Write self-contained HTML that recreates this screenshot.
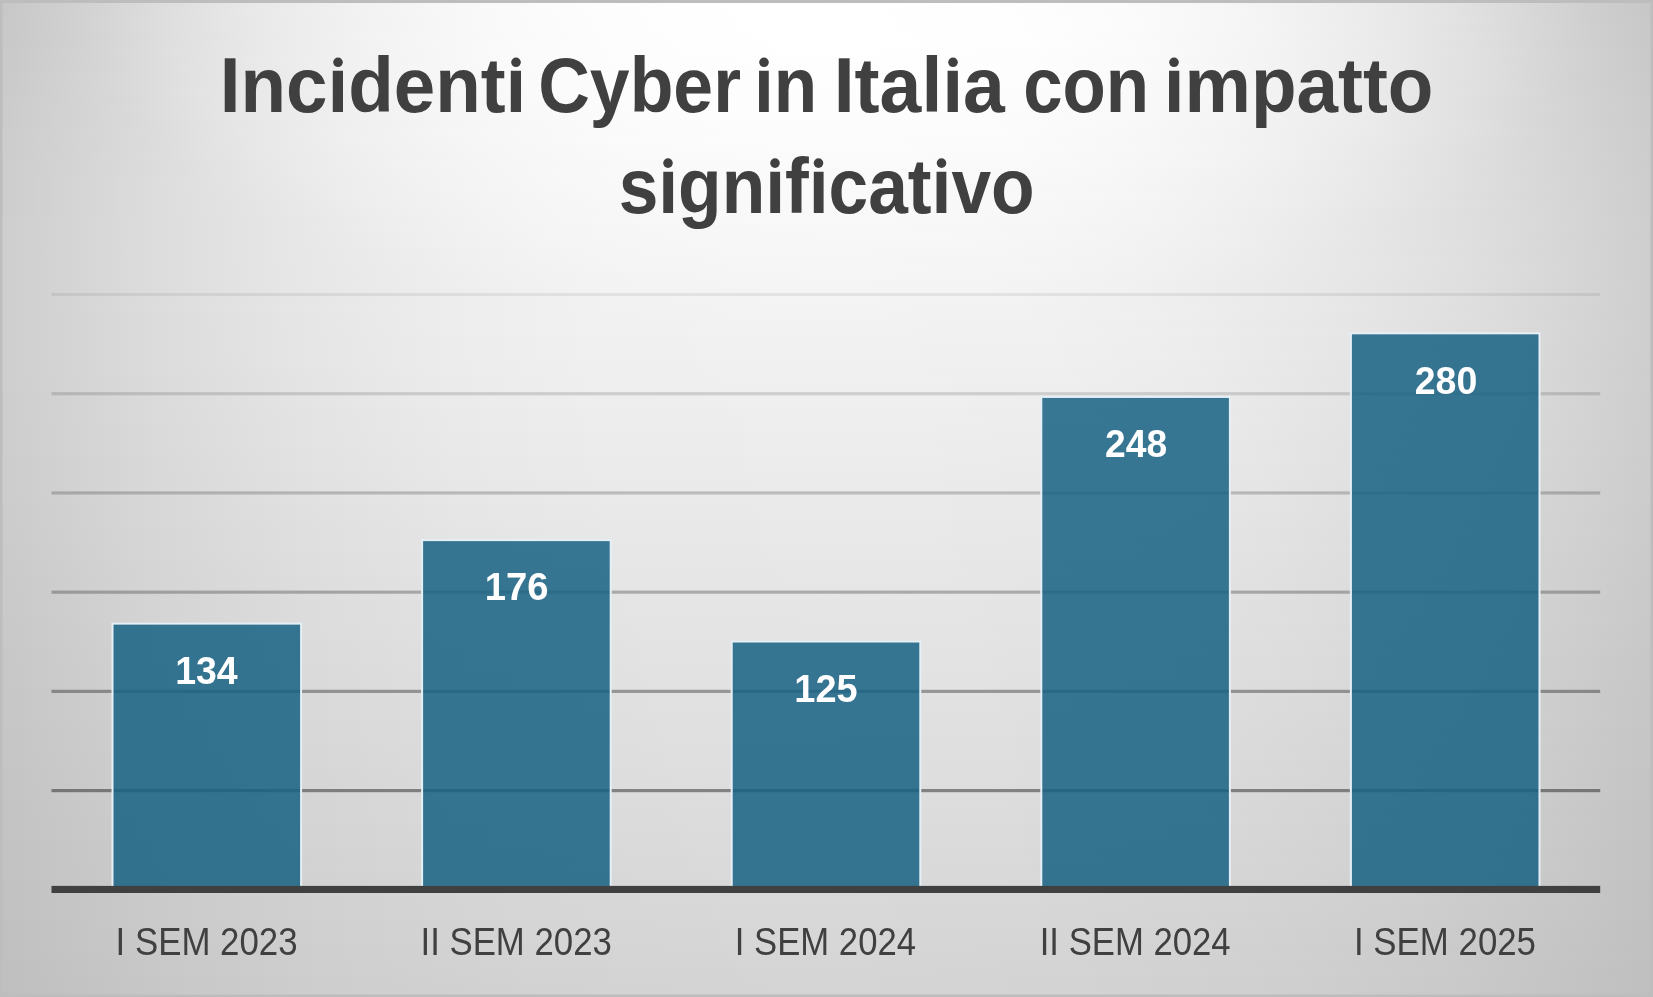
<!DOCTYPE html>
<html><head><meta charset="utf-8"><style>
html,body{margin:0;padding:0;background:#fff;}
body{width:1653px;height:997px;overflow:hidden;font-family:"Liberation Sans",sans-serif;}
svg{display:block;}
text{-webkit-font-smoothing:antialiased;}
</style></head><body>
<svg width="1653" height="997" viewBox="0 0 1653 997" style="will-change:transform">
<defs>

<linearGradient id="b0" x1="0" x2="1"><stop offset="0" stop-color="#c7c7c7"/><stop offset="0.04356" stop-color="#d0d0d0"/><stop offset="0.098" stop-color="#dddddd"/><stop offset="0.1561" stop-color="#e9e9e9"/><stop offset="0.2196" stop-color="#f2f2f2"/><stop offset="0.2904" stop-color="#f9f9f9"/><stop offset="0.3648" stop-color="#fdfdfd"/><stop offset="0.4664" stop-color="#ffffff"/><stop offset="0.5989" stop-color="#fefefe"/><stop offset="0.6788" stop-color="#fbfbfb"/><stop offset="0.7495" stop-color="#f5f5f5"/><stop offset="0.8167" stop-color="#ededed"/><stop offset="0.8766" stop-color="#e3e3e3"/><stop offset="0.9328" stop-color="#d6d6d6"/><stop offset="0.9655" stop-color="#cecece"/><stop offset="1" stop-color="#c7c7c7"/></linearGradient>
<linearGradient id="b1" x1="0" x2="1"><stop offset="0" stop-color="#c7c7c7"/><stop offset="0.04356" stop-color="#d0d0d0"/><stop offset="0.09619" stop-color="#dddddd"/><stop offset="0.1543" stop-color="#e9e9e9"/><stop offset="0.2178" stop-color="#f2f2f2"/><stop offset="0.2886" stop-color="#f9f9f9"/><stop offset="0.363" stop-color="#fdfdfd"/><stop offset="0.4664" stop-color="#ffffff"/><stop offset="0.6007" stop-color="#fefefe"/><stop offset="0.6788" stop-color="#fbfbfb"/><stop offset="0.7495" stop-color="#f6f6f6"/><stop offset="0.8167" stop-color="#ededed"/><stop offset="0.8766" stop-color="#e3e3e3"/><stop offset="0.9328" stop-color="#d6d6d6"/><stop offset="0.9655" stop-color="#cecece"/><stop offset="1" stop-color="#c7c7c7"/></linearGradient>
<linearGradient id="b2" x1="0" x2="1"><stop offset="0" stop-color="#c8c8c8"/><stop offset="0.04537" stop-color="#d1d1d1"/><stop offset="0.098" stop-color="#dedede"/><stop offset="0.1561" stop-color="#e9e9e9"/><stop offset="0.2196" stop-color="#f2f2f2"/><stop offset="0.2904" stop-color="#f9f9f9"/><stop offset="0.3666" stop-color="#fdfdfd"/><stop offset="0.4737" stop-color="#ffffff"/><stop offset="0.608" stop-color="#fefefe"/><stop offset="0.686" stop-color="#fbfbfb"/><stop offset="0.7568" stop-color="#f5f5f5"/><stop offset="0.824" stop-color="#ececec"/><stop offset="0.8838" stop-color="#e2e2e2"/><stop offset="0.9383" stop-color="#d5d5d5"/><stop offset="0.9637" stop-color="#cecece"/><stop offset="1" stop-color="#c8c8c8"/></linearGradient>
<linearGradient id="b3" x1="0" x2="1"><stop offset="0" stop-color="#c8c8c8"/><stop offset="0.04537" stop-color="#d1d1d1"/><stop offset="0.098" stop-color="#dedede"/><stop offset="0.1561" stop-color="#e9e9e9"/><stop offset="0.2196" stop-color="#f2f2f2"/><stop offset="0.2904" stop-color="#f9f9f9"/><stop offset="0.3666" stop-color="#fdfdfd"/><stop offset="0.4737" stop-color="#ffffff"/><stop offset="0.608" stop-color="#fefefe"/><stop offset="0.686" stop-color="#fbfbfb"/><stop offset="0.7586" stop-color="#f5f5f5"/><stop offset="0.8258" stop-color="#ececec"/><stop offset="0.8857" stop-color="#e1e1e1"/><stop offset="0.9401" stop-color="#d5d5d5"/><stop offset="0.9637" stop-color="#cfcfcf"/><stop offset="1" stop-color="#c8c8c8"/></linearGradient>
<linearGradient id="b4" x1="0" x2="1"><stop offset="0" stop-color="#c8c8c8"/><stop offset="0.04719" stop-color="#d1d1d1"/><stop offset="0.09982" stop-color="#dedede"/><stop offset="0.1579" stop-color="#e9e9e9"/><stop offset="0.2232" stop-color="#f3f3f3"/><stop offset="0.2958" stop-color="#f9f9f9"/><stop offset="0.3721" stop-color="#fdfdfd"/><stop offset="0.4846" stop-color="#ffffff"/><stop offset="0.6134" stop-color="#fefefe"/><stop offset="0.6915" stop-color="#fafafa"/><stop offset="0.7641" stop-color="#f4f4f4"/><stop offset="0.8294" stop-color="#ebebeb"/><stop offset="0.8893" stop-color="#e1e1e1"/><stop offset="0.9437" stop-color="#d4d4d4"/><stop offset="0.9637" stop-color="#cfcfcf"/><stop offset="1" stop-color="#c8c8c8"/></linearGradient>
<linearGradient id="b5" x1="0" x2="1"><stop offset="0" stop-color="#c8c8c8"/><stop offset="0.049" stop-color="#d2d2d2"/><stop offset="0.1034" stop-color="#dfdfdf"/><stop offset="0.1615" stop-color="#eaeaea"/><stop offset="0.2269" stop-color="#f3f3f3"/><stop offset="0.2995" stop-color="#fafafa"/><stop offset="0.3775" stop-color="#fdfdfd"/><stop offset="0.4936" stop-color="#ffffff"/><stop offset="0.6171" stop-color="#fefefe"/><stop offset="0.6951" stop-color="#fafafa"/><stop offset="0.7677" stop-color="#f4f4f4"/><stop offset="0.833" stop-color="#ebebeb"/><stop offset="0.8911" stop-color="#e0e0e0"/><stop offset="0.9456" stop-color="#d3d3d3"/><stop offset="0.9637" stop-color="#cfcfcf"/><stop offset="1" stop-color="#c8c8c8"/></linearGradient>
<linearGradient id="b6" x1="0" x2="1"><stop offset="0" stop-color="#c9c9c9"/><stop offset="0.05082" stop-color="#d3d3d3"/><stop offset="0.1053" stop-color="#e0e0e0"/><stop offset="0.1633" stop-color="#eaeaea"/><stop offset="0.2287" stop-color="#f3f3f3"/><stop offset="0.3013" stop-color="#fafafa"/><stop offset="0.3811" stop-color="#fdfdfd"/><stop offset="0.5009" stop-color="#ffffff"/><stop offset="0.6189" stop-color="#fdfdfd"/><stop offset="0.6987" stop-color="#fafafa"/><stop offset="0.7713" stop-color="#f3f3f3"/><stop offset="0.8367" stop-color="#eaeaea"/><stop offset="0.8947" stop-color="#e0e0e0"/><stop offset="0.9492" stop-color="#d3d3d3"/><stop offset="1" stop-color="#c9c9c9"/></linearGradient>
<linearGradient id="b7" x1="0" x2="1"><stop offset="0" stop-color="#c9c9c9"/><stop offset="0.05263" stop-color="#d3d3d3"/><stop offset="0.1071" stop-color="#e0e0e0"/><stop offset="0.1652" stop-color="#ebebeb"/><stop offset="0.2305" stop-color="#f3f3f3"/><stop offset="0.3031" stop-color="#fafafa"/><stop offset="0.3829" stop-color="#fdfdfd"/><stop offset="0.5045" stop-color="#fefefe"/><stop offset="0.6207" stop-color="#fdfdfd"/><stop offset="0.7005" stop-color="#f9f9f9"/><stop offset="0.7731" stop-color="#f3f3f3"/><stop offset="0.8385" stop-color="#eaeaea"/><stop offset="0.8966" stop-color="#dfdfdf"/><stop offset="0.9583" stop-color="#d1d1d1"/><stop offset="1" stop-color="#c9c9c9"/></linearGradient>
<linearGradient id="b8" x1="0" x2="1"><stop offset="0" stop-color="#c9c9c9"/><stop offset="0.05626" stop-color="#d4d4d4"/><stop offset="0.1107" stop-color="#e1e1e1"/><stop offset="0.1688" stop-color="#ebebeb"/><stop offset="0.2341" stop-color="#f4f4f4"/><stop offset="0.3085" stop-color="#fafafa"/><stop offset="0.3902" stop-color="#fdfdfd"/><stop offset="0.5209" stop-color="#fefefe"/><stop offset="0.6279" stop-color="#fdfdfd"/><stop offset="0.7078" stop-color="#f9f9f9"/><stop offset="0.7804" stop-color="#f2f2f2"/><stop offset="0.8439" stop-color="#e9e9e9"/><stop offset="0.902" stop-color="#dedede"/><stop offset="0.9546" stop-color="#d2d2d2"/><stop offset="1" stop-color="#c9c9c9"/></linearGradient>
<linearGradient id="b9" x1="0" x2="1"><stop offset="0" stop-color="#cacaca"/><stop offset="0.05808" stop-color="#d5d5d5"/><stop offset="0.1125" stop-color="#e1e1e1"/><stop offset="0.1706" stop-color="#ebebeb"/><stop offset="0.2359" stop-color="#f4f4f4"/><stop offset="0.3103" stop-color="#fafafa"/><stop offset="0.392" stop-color="#fdfdfd"/><stop offset="0.5227" stop-color="#fefefe"/><stop offset="0.6279" stop-color="#fdfdfd"/><stop offset="0.7078" stop-color="#f8f8f8"/><stop offset="0.7804" stop-color="#f2f2f2"/><stop offset="0.8439" stop-color="#e9e9e9"/><stop offset="0.902" stop-color="#dedede"/><stop offset="0.9528" stop-color="#d2d2d2"/><stop offset="1" stop-color="#cacaca"/></linearGradient>
<linearGradient id="b10" x1="0" x2="1"><stop offset="0" stop-color="#cacaca"/><stop offset="0.06171" stop-color="#d6d6d6"/><stop offset="0.1162" stop-color="#e2e2e2"/><stop offset="0.176" stop-color="#ececec"/><stop offset="0.2432" stop-color="#f4f4f4"/><stop offset="0.3194" stop-color="#fafafa"/><stop offset="0.4029" stop-color="#fdfdfd"/><stop offset="0.5463" stop-color="#fefefe"/><stop offset="0.6407" stop-color="#fcfcfc"/><stop offset="0.7205" stop-color="#f7f7f7"/><stop offset="0.7913" stop-color="#f0f0f0"/><stop offset="0.8548" stop-color="#e7e7e7"/><stop offset="0.9111" stop-color="#dcdcdc"/><stop offset="0.9492" stop-color="#d3d3d3"/><stop offset="1" stop-color="#cacaca"/></linearGradient>
<linearGradient id="b11" x1="0" x2="1"><stop offset="0" stop-color="#cacaca"/><stop offset="0.06534" stop-color="#d7d7d7"/><stop offset="0.1198" stop-color="#e3e3e3"/><stop offset="0.1797" stop-color="#ededed"/><stop offset="0.2468" stop-color="#f4f4f4"/><stop offset="0.323" stop-color="#fafafa"/><stop offset="0.4083" stop-color="#fdfdfd"/><stop offset="0.5554" stop-color="#fdfdfd"/><stop offset="0.6461" stop-color="#fbfbfb"/><stop offset="0.7278" stop-color="#f7f7f7"/><stop offset="0.7985" stop-color="#efefef"/><stop offset="0.8603" stop-color="#e6e6e6"/><stop offset="0.9165" stop-color="#dbdbdb"/><stop offset="0.9474" stop-color="#d4d4d4"/><stop offset="1" stop-color="#cacaca"/></linearGradient>
<linearGradient id="b12" x1="0" x2="1"><stop offset="0" stop-color="#cbcbcb"/><stop offset="0.06897" stop-color="#d7d7d7"/><stop offset="0.1234" stop-color="#e3e3e3"/><stop offset="0.1833" stop-color="#ededed"/><stop offset="0.2505" stop-color="#f4f4f4"/><stop offset="0.3285" stop-color="#fafafa"/><stop offset="0.4138" stop-color="#fdfdfd"/><stop offset="0.5626" stop-color="#fdfdfd"/><stop offset="0.6515" stop-color="#fbfbfb"/><stop offset="0.7332" stop-color="#f6f6f6"/><stop offset="0.8022" stop-color="#efefef"/><stop offset="0.8639" stop-color="#e5e5e5"/><stop offset="0.9183" stop-color="#dadada"/><stop offset="0.9437" stop-color="#d5d5d5"/><stop offset="1" stop-color="#cbcbcb"/></linearGradient>
<linearGradient id="b13" x1="0" x2="1"><stop offset="0" stop-color="#cbcbcb"/><stop offset="0.0726" stop-color="#d8d8d8"/><stop offset="0.127" stop-color="#e4e4e4"/><stop offset="0.1869" stop-color="#ededed"/><stop offset="0.2559" stop-color="#f5f5f5"/><stop offset="0.3358" stop-color="#fafafa"/><stop offset="0.4229" stop-color="#fdfdfd"/><stop offset="0.5735" stop-color="#fdfdfd"/><stop offset="0.6606" stop-color="#fafafa"/><stop offset="0.7405" stop-color="#f5f5f5"/><stop offset="0.8094" stop-color="#eeeeee"/><stop offset="0.8693" stop-color="#e4e4e4"/><stop offset="0.9238" stop-color="#d9d9d9"/><stop offset="0.9456" stop-color="#d5d5d5"/><stop offset="1" stop-color="#cbcbcb"/></linearGradient>
<linearGradient id="b14" x1="0" x2="1"><stop offset="0" stop-color="#cbcbcb"/><stop offset="0.07804" stop-color="#d9d9d9"/><stop offset="0.1325" stop-color="#e5e5e5"/><stop offset="0.1942" stop-color="#eeeeee"/><stop offset="0.2632" stop-color="#f5f5f5"/><stop offset="0.3448" stop-color="#fafafa"/><stop offset="0.4338" stop-color="#fdfdfd"/><stop offset="0.5808" stop-color="#fcfcfc"/><stop offset="0.6661" stop-color="#fafafa"/><stop offset="0.7459" stop-color="#f4f4f4"/><stop offset="0.8149" stop-color="#ededed"/><stop offset="0.8748" stop-color="#e3e3e3"/><stop offset="0.9383" stop-color="#d6d6d6"/><stop offset="1" stop-color="#cbcbcb"/></linearGradient>
<linearGradient id="b15" x1="0" x2="1"><stop offset="0" stop-color="#cbcbcb"/><stop offset="0.08348" stop-color="#dadada"/><stop offset="0.1379" stop-color="#e5e5e5"/><stop offset="0.1996" stop-color="#eeeeee"/><stop offset="0.2704" stop-color="#f5f5f5"/><stop offset="0.3557" stop-color="#fafafa"/><stop offset="0.4483" stop-color="#fcfcfc"/><stop offset="0.5898" stop-color="#fcfcfc"/><stop offset="0.6751" stop-color="#f9f9f9"/><stop offset="0.755" stop-color="#f3f3f3"/><stop offset="0.8221" stop-color="#ececec"/><stop offset="0.882" stop-color="#e2e2e2"/><stop offset="0.9328" stop-color="#d7d7d7"/><stop offset="1" stop-color="#cbcbcb"/></linearGradient>
<linearGradient id="b16" x1="0" x2="1"><stop offset="0" stop-color="#cccccc"/><stop offset="0.08711" stop-color="#dbdbdb"/><stop offset="0.1434" stop-color="#e6e6e6"/><stop offset="0.2051" stop-color="#efefef"/><stop offset="0.2777" stop-color="#f6f6f6"/><stop offset="0.3648" stop-color="#fafafa"/><stop offset="0.461" stop-color="#fcfcfc"/><stop offset="0.5971" stop-color="#fcfcfc"/><stop offset="0.6824" stop-color="#f8f8f8"/><stop offset="0.7604" stop-color="#f2f2f2"/><stop offset="0.8276" stop-color="#ebebeb"/><stop offset="0.8857" stop-color="#e1e1e1"/><stop offset="0.9292" stop-color="#d8d8d8"/><stop offset="1" stop-color="#cccccc"/></linearGradient>
<linearGradient id="b17" x1="0" x2="1"><stop offset="0" stop-color="#cccccc"/><stop offset="0.09437" stop-color="#dcdcdc"/><stop offset="0.1506" stop-color="#e7e7e7"/><stop offset="0.2142" stop-color="#f0f0f0"/><stop offset="0.2886" stop-color="#f6f6f6"/><stop offset="0.3757" stop-color="#fbfbfb"/><stop offset="0.4809" stop-color="#fcfcfc"/><stop offset="0.6062" stop-color="#fbfbfb"/><stop offset="0.6933" stop-color="#f7f7f7"/><stop offset="0.7713" stop-color="#f1f1f1"/><stop offset="0.8367" stop-color="#e9e9e9"/><stop offset="0.8947" stop-color="#dfdfdf"/><stop offset="0.9238" stop-color="#d9d9d9"/><stop offset="1" stop-color="#cccccc"/></linearGradient>
<linearGradient id="b18" x1="0" x2="1"><stop offset="0" stop-color="#cccccc"/><stop offset="0.09982" stop-color="#dddddd"/><stop offset="0.1561" stop-color="#e8e8e8"/><stop offset="0.2196" stop-color="#f0f0f0"/><stop offset="0.294" stop-color="#f6f6f6"/><stop offset="0.3811" stop-color="#fafafa"/><stop offset="0.4918" stop-color="#fcfcfc"/><stop offset="0.6098" stop-color="#fbfbfb"/><stop offset="0.6969" stop-color="#f7f7f7"/><stop offset="0.7731" stop-color="#f1f1f1"/><stop offset="0.8385" stop-color="#e8e8e8"/><stop offset="0.8966" stop-color="#dedede"/><stop offset="0.9238" stop-color="#d9d9d9"/><stop offset="1" stop-color="#cccccc"/></linearGradient>
<linearGradient id="b19" x1="0" x2="1"><stop offset="0" stop-color="#cccccc"/><stop offset="0.09074" stop-color="#dcdcdc"/><stop offset="0.1597" stop-color="#e8e8e8"/><stop offset="0.225" stop-color="#f0f0f0"/><stop offset="0.3013" stop-color="#f6f6f6"/><stop offset="0.3884" stop-color="#fafafa"/><stop offset="0.5064" stop-color="#fbfbfb"/><stop offset="0.6171" stop-color="#fafafa"/><stop offset="0.7042" stop-color="#f6f6f6"/><stop offset="0.7804" stop-color="#f0f0f0"/><stop offset="0.8439" stop-color="#e7e7e7"/><stop offset="0.9002" stop-color="#dddddd"/><stop offset="0.9982" stop-color="#cdcdcd"/><stop offset="1" stop-color="#cccccc"/></linearGradient>
<linearGradient id="b20" x1="0" x2="1"><stop offset="0" stop-color="#cdcdcd"/><stop offset="0.08893" stop-color="#dbdbdb"/><stop offset="0.118" stop-color="#e0e0e0"/><stop offset="0.176" stop-color="#eaeaea"/><stop offset="0.2432" stop-color="#f2f2f2"/><stop offset="0.3267" stop-color="#f7f7f7"/><stop offset="0.412" stop-color="#fafafa"/><stop offset="0.5517" stop-color="#fbfbfb"/><stop offset="0.6443" stop-color="#f9f9f9"/><stop offset="0.7332" stop-color="#f4f4f4"/><stop offset="0.804" stop-color="#ececec"/><stop offset="0.8657" stop-color="#e3e3e3"/><stop offset="0.9074" stop-color="#dcdcdc"/><stop offset="0.9964" stop-color="#cdcdcd"/><stop offset="1" stop-color="#cdcdcd"/></linearGradient>
<linearGradient id="b21" x1="0" x2="1"><stop offset="0" stop-color="#cdcdcd"/><stop offset="0.08893" stop-color="#dbdbdb"/><stop offset="0.1234" stop-color="#e1e1e1"/><stop offset="0.1833" stop-color="#ebebeb"/><stop offset="0.2523" stop-color="#f2f2f2"/><stop offset="0.3394" stop-color="#f8f8f8"/><stop offset="0.4265" stop-color="#fafafa"/><stop offset="0.5681" stop-color="#fafafa"/><stop offset="0.657" stop-color="#f8f8f8"/><stop offset="0.7441" stop-color="#f2f2f2"/><stop offset="0.8131" stop-color="#ebebeb"/><stop offset="0.873" stop-color="#e2e2e2"/><stop offset="0.9056" stop-color="#dcdcdc"/><stop offset="0.9927" stop-color="#cecece"/><stop offset="1" stop-color="#cdcdcd"/></linearGradient>
<linearGradient id="b22" x1="0" x2="1"><stop offset="0" stop-color="#cdcdcd"/><stop offset="0.08893" stop-color="#dcdcdc"/><stop offset="0.1289" stop-color="#e2e2e2"/><stop offset="0.1887" stop-color="#ebebeb"/><stop offset="0.2577" stop-color="#f2f2f2"/><stop offset="0.3466" stop-color="#f8f8f8"/><stop offset="0.4356" stop-color="#fafafa"/><stop offset="0.5771" stop-color="#fafafa"/><stop offset="0.6642" stop-color="#f7f7f7"/><stop offset="0.7495" stop-color="#f1f1f1"/><stop offset="0.8167" stop-color="#eaeaea"/><stop offset="0.8766" stop-color="#e1e1e1"/><stop offset="0.9764" stop-color="#d1d1d1"/><stop offset="1" stop-color="#cdcdcd"/></linearGradient>
<linearGradient id="b23" x1="0" x2="1"><stop offset="0" stop-color="#cdcdcd"/><stop offset="0.08893" stop-color="#dcdcdc"/><stop offset="0.1379" stop-color="#e3e3e3"/><stop offset="0.1996" stop-color="#ececec"/><stop offset="0.2704" stop-color="#f3f3f3"/><stop offset="0.3575" stop-color="#f8f8f8"/><stop offset="0.4519" stop-color="#fafafa"/><stop offset="0.588" stop-color="#f9f9f9"/><stop offset="0.6733" stop-color="#f6f6f6"/><stop offset="0.7568" stop-color="#f0f0f0"/><stop offset="0.824" stop-color="#e9e9e9"/><stop offset="0.8947" stop-color="#dedede"/><stop offset="0.9782" stop-color="#d1d1d1"/><stop offset="1" stop-color="#cdcdcd"/></linearGradient>
<linearGradient id="b24" x1="0" x2="1"><stop offset="0" stop-color="#cdcdcd"/><stop offset="0.08893" stop-color="#dcdcdc"/><stop offset="0.147" stop-color="#e4e4e4"/><stop offset="0.2087" stop-color="#ededed"/><stop offset="0.2831" stop-color="#f3f3f3"/><stop offset="0.3684" stop-color="#f8f8f8"/><stop offset="0.4701" stop-color="#fafafa"/><stop offset="0.5989" stop-color="#f9f9f9"/><stop offset="0.6824" stop-color="#f6f6f6"/><stop offset="0.7641" stop-color="#efefef"/><stop offset="0.8294" stop-color="#e8e8e8"/><stop offset="0.8838" stop-color="#dfdfdf"/><stop offset="0.9655" stop-color="#d3d3d3"/><stop offset="1" stop-color="#cdcdcd"/></linearGradient>
<linearGradient id="b25" x1="0" x2="1"><stop offset="0" stop-color="#cdcdcd"/><stop offset="0.08893" stop-color="#dcdcdc"/><stop offset="0.1579" stop-color="#e5e5e5"/><stop offset="0.2214" stop-color="#eeeeee"/><stop offset="0.2995" stop-color="#f4f4f4"/><stop offset="0.3829" stop-color="#f8f8f8"/><stop offset="0.4973" stop-color="#f9f9f9"/><stop offset="0.6134" stop-color="#f8f8f8"/><stop offset="0.6969" stop-color="#f4f4f4"/><stop offset="0.775" stop-color="#eeeeee"/><stop offset="0.8403" stop-color="#e6e6e6"/><stop offset="0.8838" stop-color="#e0e0e0"/><stop offset="0.9655" stop-color="#d3d3d3"/><stop offset="1" stop-color="#cdcdcd"/></linearGradient>
<linearGradient id="b26" x1="0" x2="1"><stop offset="0" stop-color="#cdcdcd"/><stop offset="0.08893" stop-color="#dcdcdc"/><stop offset="0.1724" stop-color="#e7e7e7"/><stop offset="0.2396" stop-color="#efefef"/><stop offset="0.3212" stop-color="#f5f5f5"/><stop offset="0.4065" stop-color="#f8f8f8"/><stop offset="0.539" stop-color="#f9f9f9"/><stop offset="0.637" stop-color="#f7f7f7"/><stop offset="0.7205" stop-color="#f2f2f2"/><stop offset="0.7931" stop-color="#ebebeb"/><stop offset="0.9365" stop-color="#d8d8d8"/><stop offset="1" stop-color="#cdcdcd"/></linearGradient>
<linearGradient id="b27" x1="0" x2="1"><stop offset="0" stop-color="#cecece"/><stop offset="0.08893" stop-color="#dcdcdc"/><stop offset="0.2287" stop-color="#ededed"/><stop offset="0.3085" stop-color="#f4f4f4"/><stop offset="0.392" stop-color="#f8f8f8"/><stop offset="0.5136" stop-color="#f9f9f9"/><stop offset="0.6225" stop-color="#f7f7f7"/><stop offset="0.706" stop-color="#f3f3f3"/><stop offset="0.7822" stop-color="#ececec"/><stop offset="0.9238" stop-color="#dadada"/><stop offset="1" stop-color="#cecece"/></linearGradient>
<linearGradient id="b28" x1="0" x2="1"><stop offset="0" stop-color="#cecece"/><stop offset="0.08893" stop-color="#dcdcdc"/><stop offset="0.2359" stop-color="#eeeeee"/><stop offset="0.3158" stop-color="#f4f4f4"/><stop offset="0.3993" stop-color="#f7f7f7"/><stop offset="0.5263" stop-color="#f8f8f8"/><stop offset="0.6298" stop-color="#f6f6f6"/><stop offset="0.7114" stop-color="#f2f2f2"/><stop offset="0.7858" stop-color="#ebebeb"/><stop offset="0.9183" stop-color="#dbdbdb"/><stop offset="1" stop-color="#cecece"/></linearGradient>
<linearGradient id="b29" x1="0" x2="1"><stop offset="0" stop-color="#cecece"/><stop offset="0.08893" stop-color="#dcdcdc"/><stop offset="0.1706" stop-color="#e6e6e6"/><stop offset="0.2559" stop-color="#efefef"/><stop offset="0.3376" stop-color="#f5f5f5"/><stop offset="0.4265" stop-color="#f7f7f7"/><stop offset="0.5626" stop-color="#f8f8f8"/><stop offset="0.6534" stop-color="#f5f5f5"/><stop offset="0.7332" stop-color="#f0f0f0"/><stop offset="0.804" stop-color="#e9e9e9"/><stop offset="0.9093" stop-color="#dcdcdc"/><stop offset="0.9982" stop-color="#cecece"/><stop offset="1" stop-color="#cecece"/></linearGradient>
<linearGradient id="b30" x1="0" x2="1"><stop offset="0" stop-color="#cecece"/><stop offset="0.08893" stop-color="#dcdcdc"/><stop offset="0.1706" stop-color="#e6e6e6"/><stop offset="0.2686" stop-color="#f0f0f0"/><stop offset="0.3485" stop-color="#f5f5f5"/><stop offset="0.441" stop-color="#f7f7f7"/><stop offset="0.5771" stop-color="#f7f7f7"/><stop offset="0.6642" stop-color="#f4f4f4"/><stop offset="0.7441" stop-color="#efefef"/><stop offset="0.8893" stop-color="#dfdfdf"/><stop offset="0.9746" stop-color="#d2d2d2"/><stop offset="1" stop-color="#cecece"/></linearGradient>
<linearGradient id="b31" x1="0" x2="1"><stop offset="0" stop-color="#cecece"/><stop offset="0.08893" stop-color="#dcdcdc"/><stop offset="0.1706" stop-color="#e6e6e6"/><stop offset="0.2831" stop-color="#f0f0f0"/><stop offset="0.3612" stop-color="#f5f5f5"/><stop offset="0.461" stop-color="#f7f7f7"/><stop offset="0.5935" stop-color="#f6f6f6"/><stop offset="0.6788" stop-color="#f3f3f3"/><stop offset="0.7586" stop-color="#ededed"/><stop offset="0.8857" stop-color="#dfdfdf"/><stop offset="0.9691" stop-color="#d3d3d3"/><stop offset="1" stop-color="#cecece"/></linearGradient>
<linearGradient id="b32" x1="0" x2="1"><stop offset="0" stop-color="#cecece"/><stop offset="0.08893" stop-color="#dcdcdc"/><stop offset="0.1706" stop-color="#e6e6e6"/><stop offset="0.294" stop-color="#f1f1f1"/><stop offset="0.3721" stop-color="#f5f5f5"/><stop offset="0.4809" stop-color="#f6f6f6"/><stop offset="0.6062" stop-color="#f5f5f5"/><stop offset="0.6878" stop-color="#f2f2f2"/><stop offset="0.7659" stop-color="#ececec"/><stop offset="0.8748" stop-color="#e1e1e1"/><stop offset="0.9564" stop-color="#d5d5d5"/><stop offset="1" stop-color="#cecece"/></linearGradient>
<linearGradient id="b33" x1="0" x2="1"><stop offset="0" stop-color="#cecece"/><stop offset="0.08893" stop-color="#dcdcdc"/><stop offset="0.1724" stop-color="#e6e6e6"/><stop offset="0.3031" stop-color="#f1f1f1"/><stop offset="0.3829" stop-color="#f5f5f5"/><stop offset="0.5009" stop-color="#f6f6f6"/><stop offset="0.6189" stop-color="#f5f5f5"/><stop offset="0.6987" stop-color="#f1f1f1"/><stop offset="0.8385" stop-color="#e5e5e5"/><stop offset="0.9201" stop-color="#dbdbdb"/><stop offset="1" stop-color="#cecece"/></linearGradient>
<linearGradient id="b34" x1="0" x2="1"><stop offset="0" stop-color="#cecece"/><stop offset="0.08893" stop-color="#dcdcdc"/><stop offset="0.1724" stop-color="#e6e6e6"/><stop offset="0.3103" stop-color="#f1f1f1"/><stop offset="0.3902" stop-color="#f4f4f4"/><stop offset="0.5154" stop-color="#f6f6f6"/><stop offset="0.6261" stop-color="#f4f4f4"/><stop offset="0.7042" stop-color="#f0f0f0"/><stop offset="0.8348" stop-color="#e5e5e5"/><stop offset="0.9183" stop-color="#dbdbdb"/><stop offset="1" stop-color="#cecece"/></linearGradient>
<linearGradient id="b35" x1="0" x2="1"><stop offset="0" stop-color="#cecece"/><stop offset="0.08893" stop-color="#dcdcdc"/><stop offset="0.1724" stop-color="#e6e6e6"/><stop offset="0.2831" stop-color="#efefef"/><stop offset="0.3593" stop-color="#f3f3f3"/><stop offset="0.4592" stop-color="#f5f5f5"/><stop offset="0.5971" stop-color="#f4f4f4"/><stop offset="0.6788" stop-color="#f1f1f1"/><stop offset="0.8094" stop-color="#e7e7e7"/><stop offset="0.8966" stop-color="#dedede"/><stop offset="0.9837" stop-color="#d1d1d1"/><stop offset="1" stop-color="#cecece"/></linearGradient>
<linearGradient id="b36" x1="0" x2="1"><stop offset="0" stop-color="#cecece"/><stop offset="0.08893" stop-color="#dcdcdc"/><stop offset="0.1742" stop-color="#e6e6e6"/><stop offset="0.2704" stop-color="#ededed"/><stop offset="0.3612" stop-color="#f3f3f3"/><stop offset="0.461" stop-color="#f4f4f4"/><stop offset="0.5989" stop-color="#f4f4f4"/><stop offset="0.6806" stop-color="#f1f1f1"/><stop offset="0.7967" stop-color="#e8e8e8"/><stop offset="0.8857" stop-color="#dfdfdf"/><stop offset="0.971" stop-color="#d3d3d3"/><stop offset="1" stop-color="#cecece"/></linearGradient>
<linearGradient id="b37" x1="0" x2="1"><stop offset="0" stop-color="#cecece"/><stop offset="0.08893" stop-color="#dcdcdc"/><stop offset="0.1742" stop-color="#e5e5e5"/><stop offset="0.2704" stop-color="#ededed"/><stop offset="0.3721" stop-color="#f2f2f2"/><stop offset="0.4809" stop-color="#f4f4f4"/><stop offset="0.6098" stop-color="#f3f3f3"/><stop offset="0.6933" stop-color="#efefef"/><stop offset="0.7895" stop-color="#e9e9e9"/><stop offset="0.8802" stop-color="#e0e0e0"/><stop offset="0.9655" stop-color="#d4d4d4"/><stop offset="1" stop-color="#cecece"/></linearGradient>
<linearGradient id="b38" x1="0" x2="1"><stop offset="0" stop-color="#cecece"/><stop offset="0.08893" stop-color="#dcdcdc"/><stop offset="0.176" stop-color="#e6e6e6"/><stop offset="0.2722" stop-color="#ededed"/><stop offset="0.3739" stop-color="#f2f2f2"/><stop offset="0.4846" stop-color="#f3f3f3"/><stop offset="0.6116" stop-color="#f2f2f2"/><stop offset="0.7169" stop-color="#eeeeee"/><stop offset="0.8131" stop-color="#e7e7e7"/><stop offset="0.9002" stop-color="#dddddd"/><stop offset="0.9873" stop-color="#d0d0d0"/><stop offset="1" stop-color="#cecece"/></linearGradient>
<linearGradient id="b39" x1="0" x2="1"><stop offset="0" stop-color="#cecece"/><stop offset="0.08893" stop-color="#dbdbdb"/><stop offset="0.176" stop-color="#e5e5e5"/><stop offset="0.2722" stop-color="#ededed"/><stop offset="0.3593" stop-color="#f1f1f1"/><stop offset="0.4682" stop-color="#f3f3f3"/><stop offset="0.6062" stop-color="#f2f2f2"/><stop offset="0.7005" stop-color="#efefef"/><stop offset="0.7949" stop-color="#e8e8e8"/><stop offset="0.8857" stop-color="#dfdfdf"/><stop offset="0.9728" stop-color="#d2d2d2"/><stop offset="1" stop-color="#cecece"/></linearGradient>
<linearGradient id="b40" x1="0" x2="1"><stop offset="0" stop-color="#cecece"/><stop offset="0.08893" stop-color="#dbdbdb"/><stop offset="0.176" stop-color="#e5e5e5"/><stop offset="0.2704" stop-color="#ededed"/><stop offset="0.3575" stop-color="#f1f1f1"/><stop offset="0.4882" stop-color="#f2f2f2"/><stop offset="0.6316" stop-color="#f1f1f1"/><stop offset="0.7187" stop-color="#ededed"/><stop offset="0.8131" stop-color="#e6e6e6"/><stop offset="0.902" stop-color="#dddddd"/><stop offset="0.9909" stop-color="#d0d0d0"/><stop offset="1" stop-color="#cecece"/></linearGradient>
<linearGradient id="b41" x1="0" x2="1"><stop offset="0" stop-color="#cecece"/><stop offset="0.08893" stop-color="#dbdbdb"/><stop offset="0.1779" stop-color="#e5e5e5"/><stop offset="0.2722" stop-color="#ededed"/><stop offset="0.3593" stop-color="#f1f1f1"/><stop offset="0.4773" stop-color="#f2f2f2"/><stop offset="0.6261" stop-color="#f1f1f1"/><stop offset="0.7132" stop-color="#eeeeee"/><stop offset="0.8076" stop-color="#e7e7e7"/><stop offset="0.8966" stop-color="#dddddd"/><stop offset="0.9837" stop-color="#d1d1d1"/><stop offset="1" stop-color="#cecece"/></linearGradient>
<linearGradient id="b42" x1="0" x2="1"><stop offset="0" stop-color="#cecece"/><stop offset="0.08893" stop-color="#dbdbdb"/><stop offset="0.1779" stop-color="#e5e5e5"/><stop offset="0.2722" stop-color="#ececec"/><stop offset="0.3593" stop-color="#f0f0f0"/><stop offset="0.4791" stop-color="#f1f1f1"/><stop offset="0.6279" stop-color="#f1f1f1"/><stop offset="0.7151" stop-color="#ededed"/><stop offset="0.8094" stop-color="#e6e6e6"/><stop offset="0.9002" stop-color="#dddddd"/><stop offset="0.9873" stop-color="#d0d0d0"/><stop offset="1" stop-color="#cecece"/></linearGradient>
<linearGradient id="b43" x1="0" x2="1"><stop offset="0" stop-color="#cecece"/><stop offset="0.08893" stop-color="#dbdbdb"/><stop offset="0.1779" stop-color="#e5e5e5"/><stop offset="0.2722" stop-color="#ececec"/><stop offset="0.3593" stop-color="#f0f0f0"/><stop offset="0.4809" stop-color="#f1f1f1"/><stop offset="0.6279" stop-color="#f0f0f0"/><stop offset="0.7169" stop-color="#ededed"/><stop offset="0.8094" stop-color="#e6e6e6"/><stop offset="0.9002" stop-color="#dcdcdc"/><stop offset="0.9873" stop-color="#d0d0d0"/><stop offset="1" stop-color="#cecece"/></linearGradient>
<linearGradient id="b44" x1="0" x2="1"><stop offset="0" stop-color="#cecece"/><stop offset="0.08893" stop-color="#dbdbdb"/><stop offset="0.1797" stop-color="#e5e5e5"/><stop offset="0.2722" stop-color="#ececec"/><stop offset="0.3593" stop-color="#f0f0f0"/><stop offset="0.4828" stop-color="#f1f1f1"/><stop offset="0.6298" stop-color="#f0f0f0"/><stop offset="0.7187" stop-color="#ededed"/><stop offset="0.8113" stop-color="#e6e6e6"/><stop offset="0.902" stop-color="#dcdcdc"/><stop offset="0.9909" stop-color="#cfcfcf"/><stop offset="1" stop-color="#cecece"/></linearGradient>
<linearGradient id="b45" x1="0" x2="1"><stop offset="0" stop-color="#cecece"/><stop offset="0.08893" stop-color="#dbdbdb"/><stop offset="0.1797" stop-color="#e5e5e5"/><stop offset="0.2722" stop-color="#ececec"/><stop offset="0.3593" stop-color="#efefef"/><stop offset="0.4864" stop-color="#f0f0f0"/><stop offset="0.6316" stop-color="#f0f0f0"/><stop offset="0.7205" stop-color="#ececec"/><stop offset="0.8131" stop-color="#e5e5e5"/><stop offset="0.9038" stop-color="#dcdcdc"/><stop offset="0.9927" stop-color="#cfcfcf"/><stop offset="1" stop-color="#cecece"/></linearGradient>
<linearGradient id="b46" x1="0" x2="1"><stop offset="0" stop-color="#cecece"/><stop offset="0.08893" stop-color="#dbdbdb"/><stop offset="0.1797" stop-color="#e4e4e4"/><stop offset="0.2722" stop-color="#ececec"/><stop offset="0.3593" stop-color="#efefef"/><stop offset="0.49" stop-color="#f0f0f0"/><stop offset="0.6334" stop-color="#efefef"/><stop offset="0.7223" stop-color="#ececec"/><stop offset="0.8149" stop-color="#e5e5e5"/><stop offset="0.9074" stop-color="#dbdbdb"/><stop offset="0.9964" stop-color="#cecece"/><stop offset="1" stop-color="#cecece"/></linearGradient>
<linearGradient id="b47" x1="0" x2="1"><stop offset="0" stop-color="#cecece"/><stop offset="0.08893" stop-color="#dadada"/><stop offset="0.1815" stop-color="#e4e4e4"/><stop offset="0.274" stop-color="#ebebeb"/><stop offset="0.363" stop-color="#efefef"/><stop offset="0.5064" stop-color="#f0f0f0"/><stop offset="0.6407" stop-color="#efefef"/><stop offset="0.7278" stop-color="#ebebeb"/><stop offset="0.8203" stop-color="#e4e4e4"/><stop offset="0.9129" stop-color="#dadada"/><stop offset="1" stop-color="#cecece"/></linearGradient>
<linearGradient id="b48" x1="0" x2="1"><stop offset="0" stop-color="#cecece"/><stop offset="0.08893" stop-color="#dadada"/><stop offset="0.1815" stop-color="#e4e4e4"/><stop offset="0.274" stop-color="#ebebeb"/><stop offset="0.363" stop-color="#efefef"/><stop offset="0.51" stop-color="#efefef"/><stop offset="0.6425" stop-color="#eeeeee"/><stop offset="0.7296" stop-color="#ebebeb"/><stop offset="0.8221" stop-color="#e4e4e4"/><stop offset="0.9147" stop-color="#dadada"/><stop offset="1" stop-color="#cecece"/></linearGradient>
<linearGradient id="b49" x1="0" x2="1"><stop offset="0" stop-color="#cdcdcd"/><stop offset="0.08893" stop-color="#dadada"/><stop offset="0.1815" stop-color="#e4e4e4"/><stop offset="0.274" stop-color="#ebebeb"/><stop offset="0.363" stop-color="#eeeeee"/><stop offset="0.5154" stop-color="#efefef"/><stop offset="0.6461" stop-color="#eeeeee"/><stop offset="0.7332" stop-color="#eaeaea"/><stop offset="0.8258" stop-color="#e3e3e3"/><stop offset="0.9183" stop-color="#d9d9d9"/><stop offset="1" stop-color="#cdcdcd"/></linearGradient>
<linearGradient id="b50" x1="0" x2="1"><stop offset="0" stop-color="#cdcdcd"/><stop offset="0.08893" stop-color="#dadada"/><stop offset="0.1815" stop-color="#e4e4e4"/><stop offset="0.274" stop-color="#ebebeb"/><stop offset="0.363" stop-color="#eeeeee"/><stop offset="0.5172" stop-color="#efefef"/><stop offset="0.6479" stop-color="#eeeeee"/><stop offset="0.7368" stop-color="#eaeaea"/><stop offset="0.8294" stop-color="#e3e3e3"/><stop offset="0.922" stop-color="#d9d9d9"/><stop offset="1" stop-color="#cdcdcd"/></linearGradient>
<linearGradient id="b51" x1="0" x2="1"><stop offset="0" stop-color="#cdcdcd"/><stop offset="0.08893" stop-color="#dadada"/><stop offset="0.1815" stop-color="#e3e3e3"/><stop offset="0.274" stop-color="#eaeaea"/><stop offset="0.363" stop-color="#ededed"/><stop offset="0.5209" stop-color="#eeeeee"/><stop offset="0.6515" stop-color="#ededed"/><stop offset="0.7405" stop-color="#e9e9e9"/><stop offset="0.833" stop-color="#e2e2e2"/><stop offset="0.9256" stop-color="#d8d8d8"/><stop offset="1" stop-color="#cdcdcd"/></linearGradient>
<linearGradient id="b52" x1="0" x2="1"><stop offset="0" stop-color="#cdcdcd"/><stop offset="0.08893" stop-color="#dadada"/><stop offset="0.1833" stop-color="#e3e3e3"/><stop offset="0.2759" stop-color="#eaeaea"/><stop offset="0.3666" stop-color="#ededed"/><stop offset="0.5336" stop-color="#eeeeee"/><stop offset="0.6588" stop-color="#ededed"/><stop offset="0.7459" stop-color="#e9e9e9"/><stop offset="0.8403" stop-color="#e1e1e1"/><stop offset="0.9328" stop-color="#d7d7d7"/><stop offset="1" stop-color="#cdcdcd"/></linearGradient>
<linearGradient id="b53" x1="0" x2="1"><stop offset="0" stop-color="#cdcdcd"/><stop offset="0.08893" stop-color="#d9d9d9"/><stop offset="0.1833" stop-color="#e3e3e3"/><stop offset="0.2759" stop-color="#eaeaea"/><stop offset="0.3666" stop-color="#ededed"/><stop offset="0.5354" stop-color="#eeeeee"/><stop offset="0.6606" stop-color="#ececec"/><stop offset="0.7495" stop-color="#e8e8e8"/><stop offset="0.8439" stop-color="#e1e1e1"/><stop offset="0.9365" stop-color="#d6d6d6"/><stop offset="1" stop-color="#cdcdcd"/></linearGradient>
<linearGradient id="b54" x1="0" x2="1"><stop offset="0" stop-color="#cdcdcd"/><stop offset="0.08893" stop-color="#d9d9d9"/><stop offset="0.1833" stop-color="#e3e3e3"/><stop offset="0.2759" stop-color="#e9e9e9"/><stop offset="0.3666" stop-color="#ececec"/><stop offset="0.5354" stop-color="#ededed"/><stop offset="0.6606" stop-color="#ececec"/><stop offset="0.7495" stop-color="#e8e8e8"/><stop offset="0.8439" stop-color="#e0e0e0"/><stop offset="0.9365" stop-color="#d6d6d6"/><stop offset="1" stop-color="#cdcdcd"/></linearGradient>
<linearGradient id="b55" x1="0" x2="1"><stop offset="0" stop-color="#cdcdcd"/><stop offset="0.08893" stop-color="#d9d9d9"/><stop offset="0.1833" stop-color="#e3e3e3"/><stop offset="0.2759" stop-color="#e9e9e9"/><stop offset="0.3666" stop-color="#ececec"/><stop offset="0.5354" stop-color="#ededed"/><stop offset="0.6624" stop-color="#ebebeb"/><stop offset="0.7514" stop-color="#e7e7e7"/><stop offset="0.8457" stop-color="#e0e0e0"/><stop offset="0.9383" stop-color="#d5d5d5"/><stop offset="1" stop-color="#cdcdcd"/></linearGradient>
<linearGradient id="b56" x1="0" x2="1"><stop offset="0" stop-color="#cdcdcd"/><stop offset="0.08893" stop-color="#d9d9d9"/><stop offset="0.1833" stop-color="#e2e2e2"/><stop offset="0.2759" stop-color="#e9e9e9"/><stop offset="0.3684" stop-color="#ececec"/><stop offset="0.539" stop-color="#ededed"/><stop offset="0.6661" stop-color="#ebebeb"/><stop offset="0.755" stop-color="#e7e7e7"/><stop offset="0.8494" stop-color="#dfdfdf"/><stop offset="0.9419" stop-color="#d5d5d5"/><stop offset="1" stop-color="#cdcdcd"/></linearGradient>
<linearGradient id="b57" x1="0" x2="1"><stop offset="0" stop-color="#cccccc"/><stop offset="0.08893" stop-color="#d8d8d8"/><stop offset="0.1833" stop-color="#e2e2e2"/><stop offset="0.2759" stop-color="#e8e8e8"/><stop offset="0.3684" stop-color="#ebebeb"/><stop offset="0.539" stop-color="#ececec"/><stop offset="0.6661" stop-color="#ebebeb"/><stop offset="0.755" stop-color="#e7e7e7"/><stop offset="0.8512" stop-color="#dfdfdf"/><stop offset="0.9437" stop-color="#d4d4d4"/><stop offset="1" stop-color="#cccccc"/></linearGradient>
<linearGradient id="b58" x1="0" x2="1"><stop offset="0" stop-color="#cccccc"/><stop offset="0.08893" stop-color="#d8d8d8"/><stop offset="0.1833" stop-color="#e2e2e2"/><stop offset="0.2759" stop-color="#e8e8e8"/><stop offset="0.3684" stop-color="#ebebeb"/><stop offset="0.5372" stop-color="#ececec"/><stop offset="0.6679" stop-color="#eaeaea"/><stop offset="0.7568" stop-color="#e6e6e6"/><stop offset="0.853" stop-color="#dedede"/><stop offset="0.9456" stop-color="#d4d4d4"/><stop offset="1" stop-color="#cccccc"/></linearGradient>
<linearGradient id="b59" x1="0" x2="1"><stop offset="0" stop-color="#cccccc"/><stop offset="0.08893" stop-color="#d8d8d8"/><stop offset="0.1833" stop-color="#e1e1e1"/><stop offset="0.2777" stop-color="#e8e8e8"/><stop offset="0.3721" stop-color="#ebebeb"/><stop offset="0.5408" stop-color="#ebebeb"/><stop offset="0.6697" stop-color="#eaeaea"/><stop offset="0.7586" stop-color="#e6e6e6"/><stop offset="0.8548" stop-color="#dedede"/><stop offset="0.9474" stop-color="#d3d3d3"/><stop offset="1" stop-color="#cccccc"/></linearGradient>
<linearGradient id="b60" x1="0" x2="1"><stop offset="0" stop-color="#cccccc"/><stop offset="0.08893" stop-color="#d8d8d8"/><stop offset="0.1833" stop-color="#e1e1e1"/><stop offset="0.2777" stop-color="#e7e7e7"/><stop offset="0.3721" stop-color="#eaeaea"/><stop offset="0.539" stop-color="#ebebeb"/><stop offset="0.6715" stop-color="#e9e9e9"/><stop offset="0.7604" stop-color="#e5e5e5"/><stop offset="0.8566" stop-color="#dedede"/><stop offset="0.9492" stop-color="#d3d3d3"/><stop offset="1" stop-color="#cccccc"/></linearGradient>
<linearGradient id="b61" x1="0" x2="1"><stop offset="0" stop-color="#cccccc"/><stop offset="0.09074" stop-color="#d8d8d8"/><stop offset="0.1851" stop-color="#e1e1e1"/><stop offset="0.2795" stop-color="#e7e7e7"/><stop offset="0.3757" stop-color="#eaeaea"/><stop offset="0.5426" stop-color="#ebebeb"/><stop offset="0.6733" stop-color="#e9e9e9"/><stop offset="0.7641" stop-color="#e5e5e5"/><stop offset="0.8603" stop-color="#dddddd"/><stop offset="0.9528" stop-color="#d2d2d2"/><stop offset="1" stop-color="#cccccc"/></linearGradient>
<linearGradient id="b62" x1="0" x2="1"><stop offset="0" stop-color="#cccccc"/><stop offset="0.09074" stop-color="#d7d7d7"/><stop offset="0.1851" stop-color="#e1e1e1"/><stop offset="0.2813" stop-color="#e7e7e7"/><stop offset="0.3775" stop-color="#eaeaea"/><stop offset="0.5426" stop-color="#eaeaea"/><stop offset="0.6751" stop-color="#e8e8e8"/><stop offset="0.7659" stop-color="#e4e4e4"/><stop offset="0.8621" stop-color="#dcdcdc"/><stop offset="0.9546" stop-color="#d2d2d2"/><stop offset="1" stop-color="#cccccc"/></linearGradient>
<linearGradient id="b63" x1="0" x2="1"><stop offset="0" stop-color="#cbcbcb"/><stop offset="0.09074" stop-color="#d7d7d7"/><stop offset="0.1833" stop-color="#e0e0e0"/><stop offset="0.2795" stop-color="#e6e6e6"/><stop offset="0.3757" stop-color="#e9e9e9"/><stop offset="0.539" stop-color="#eaeaea"/><stop offset="0.6751" stop-color="#e8e8e8"/><stop offset="0.7659" stop-color="#e4e4e4"/><stop offset="0.8621" stop-color="#dcdcdc"/><stop offset="0.9546" stop-color="#d2d2d2"/><stop offset="1" stop-color="#cbcbcb"/></linearGradient>
<linearGradient id="b64" x1="0" x2="1"><stop offset="0" stop-color="#cbcbcb"/><stop offset="0.09074" stop-color="#d7d7d7"/><stop offset="0.1833" stop-color="#e0e0e0"/><stop offset="0.2813" stop-color="#e6e6e6"/><stop offset="0.3793" stop-color="#e9e9e9"/><stop offset="0.5408" stop-color="#eaeaea"/><stop offset="0.677" stop-color="#e8e8e8"/><stop offset="0.7677" stop-color="#e3e3e3"/><stop offset="0.8639" stop-color="#dcdcdc"/><stop offset="0.9564" stop-color="#d1d1d1"/><stop offset="1" stop-color="#cbcbcb"/></linearGradient>
<linearGradient id="b65" x1="0" x2="1"><stop offset="0" stop-color="#cbcbcb"/><stop offset="0.09074" stop-color="#d7d7d7"/><stop offset="0.1833" stop-color="#dfdfdf"/><stop offset="0.2813" stop-color="#e6e6e6"/><stop offset="0.3793" stop-color="#e8e8e8"/><stop offset="0.539" stop-color="#e9e9e9"/><stop offset="0.677" stop-color="#e7e7e7"/><stop offset="0.7677" stop-color="#e3e3e3"/><stop offset="0.8639" stop-color="#dbdbdb"/><stop offset="0.9564" stop-color="#d1d1d1"/><stop offset="1" stop-color="#cbcbcb"/></linearGradient>
<linearGradient id="b66" x1="0" x2="1"><stop offset="0" stop-color="#cbcbcb"/><stop offset="0.09074" stop-color="#d6d6d6"/><stop offset="0.1833" stop-color="#dfdfdf"/><stop offset="0.2813" stop-color="#e5e5e5"/><stop offset="0.3811" stop-color="#e8e8e8"/><stop offset="0.5408" stop-color="#e9e9e9"/><stop offset="0.677" stop-color="#e7e7e7"/><stop offset="0.7695" stop-color="#e2e2e2"/><stop offset="0.8657" stop-color="#dbdbdb"/><stop offset="0.9583" stop-color="#d1d1d1"/><stop offset="1" stop-color="#cbcbcb"/></linearGradient>
<linearGradient id="b67" x1="0" x2="1"><stop offset="0" stop-color="#cbcbcb"/><stop offset="0.09074" stop-color="#d6d6d6"/><stop offset="0.1833" stop-color="#dfdfdf"/><stop offset="0.2813" stop-color="#e5e5e5"/><stop offset="0.3811" stop-color="#e8e8e8"/><stop offset="0.5408" stop-color="#e9e9e9"/><stop offset="0.677" stop-color="#e6e6e6"/><stop offset="0.7695" stop-color="#e2e2e2"/><stop offset="0.8675" stop-color="#dadada"/><stop offset="0.9601" stop-color="#d0d0d0"/><stop offset="1" stop-color="#cbcbcb"/></linearGradient>
<linearGradient id="b68" x1="0" x2="1"><stop offset="0" stop-color="#cacaca"/><stop offset="0.09074" stop-color="#d6d6d6"/><stop offset="0.1833" stop-color="#dfdfdf"/><stop offset="0.2831" stop-color="#e5e5e5"/><stop offset="0.3848" stop-color="#e7e7e7"/><stop offset="0.5426" stop-color="#e8e8e8"/><stop offset="0.6788" stop-color="#e6e6e6"/><stop offset="0.7713" stop-color="#e2e2e2"/><stop offset="0.8675" stop-color="#dadada"/><stop offset="0.9601" stop-color="#d0d0d0"/><stop offset="1" stop-color="#cacaca"/></linearGradient>
<linearGradient id="b69" x1="0" x2="1"><stop offset="0" stop-color="#cacaca"/><stop offset="0.09074" stop-color="#d6d6d6"/><stop offset="0.1833" stop-color="#dedede"/><stop offset="0.2831" stop-color="#e4e4e4"/><stop offset="0.3866" stop-color="#e7e7e7"/><stop offset="0.5445" stop-color="#e8e8e8"/><stop offset="0.6788" stop-color="#e6e6e6"/><stop offset="0.7731" stop-color="#e1e1e1"/><stop offset="0.8693" stop-color="#dadada"/><stop offset="0.9619" stop-color="#cfcfcf"/><stop offset="1" stop-color="#cacaca"/></linearGradient>
<linearGradient id="b70" x1="0" x2="1"><stop offset="0" stop-color="#cacaca"/><stop offset="0.09074" stop-color="#d5d5d5"/><stop offset="0.1833" stop-color="#dedede"/><stop offset="0.2831" stop-color="#e4e4e4"/><stop offset="0.3866" stop-color="#e7e7e7"/><stop offset="0.5463" stop-color="#e7e7e7"/><stop offset="0.6788" stop-color="#e5e5e5"/><stop offset="0.7731" stop-color="#e1e1e1"/><stop offset="0.8693" stop-color="#d9d9d9"/><stop offset="0.9619" stop-color="#cfcfcf"/><stop offset="1" stop-color="#cacaca"/></linearGradient>
<linearGradient id="b71" x1="0" x2="1"><stop offset="0" stop-color="#cacaca"/><stop offset="0.09256" stop-color="#d5d5d5"/><stop offset="0.1851" stop-color="#dedede"/><stop offset="0.2849" stop-color="#e4e4e4"/><stop offset="0.3902" stop-color="#e6e6e6"/><stop offset="0.5499" stop-color="#e7e7e7"/><stop offset="0.6806" stop-color="#e5e5e5"/><stop offset="0.7768" stop-color="#e0e0e0"/><stop offset="0.873" stop-color="#d9d9d9"/><stop offset="0.9655" stop-color="#cecece"/><stop offset="1" stop-color="#cacaca"/></linearGradient>
<linearGradient id="b72" x1="0" x2="1"><stop offset="0" stop-color="#c9c9c9"/><stop offset="0.09256" stop-color="#d5d5d5"/><stop offset="0.1851" stop-color="#dddddd"/><stop offset="0.2849" stop-color="#e3e3e3"/><stop offset="0.392" stop-color="#e6e6e6"/><stop offset="0.5535" stop-color="#e7e7e7"/><stop offset="0.6824" stop-color="#e4e4e4"/><stop offset="0.7786" stop-color="#e0e0e0"/><stop offset="0.8748" stop-color="#d8d8d8"/><stop offset="0.9673" stop-color="#cecece"/><stop offset="1" stop-color="#c9c9c9"/></linearGradient>
<linearGradient id="b73" x1="0" x2="1"><stop offset="0" stop-color="#c9c9c9"/><stop offset="0.09256" stop-color="#d5d5d5"/><stop offset="0.1851" stop-color="#dddddd"/><stop offset="0.2868" stop-color="#e3e3e3"/><stop offset="0.3956" stop-color="#e6e6e6"/><stop offset="0.559" stop-color="#e6e6e6"/><stop offset="0.686" stop-color="#e4e4e4"/><stop offset="0.7822" stop-color="#dfdfdf"/><stop offset="0.8784" stop-color="#d8d8d8"/><stop offset="0.971" stop-color="#cdcdcd"/><stop offset="1" stop-color="#c9c9c9"/></linearGradient>
<linearGradient id="b74" x1="0" x2="1"><stop offset="0" stop-color="#c9c9c9"/><stop offset="0.09256" stop-color="#d4d4d4"/><stop offset="0.1851" stop-color="#dddddd"/><stop offset="0.2868" stop-color="#e3e3e3"/><stop offset="0.3956" stop-color="#e5e5e5"/><stop offset="0.559" stop-color="#e6e6e6"/><stop offset="0.686" stop-color="#e4e4e4"/><stop offset="0.784" stop-color="#dfdfdf"/><stop offset="0.8784" stop-color="#d7d7d7"/><stop offset="0.971" stop-color="#cdcdcd"/><stop offset="1" stop-color="#c9c9c9"/></linearGradient>
<linearGradient id="b75" x1="0" x2="1"><stop offset="0" stop-color="#c9c9c9"/><stop offset="0.09256" stop-color="#d4d4d4"/><stop offset="0.1851" stop-color="#dcdcdc"/><stop offset="0.2868" stop-color="#e2e2e2"/><stop offset="0.3975" stop-color="#e5e5e5"/><stop offset="0.5626" stop-color="#e5e5e5"/><stop offset="0.6878" stop-color="#e3e3e3"/><stop offset="0.7858" stop-color="#dedede"/><stop offset="0.8802" stop-color="#d7d7d7"/><stop offset="0.9728" stop-color="#cccccc"/><stop offset="1" stop-color="#c9c9c9"/></linearGradient>
<linearGradient id="b76" x1="0" x2="1"><stop offset="0" stop-color="#c9c9c9"/><stop offset="0.09256" stop-color="#d4d4d4"/><stop offset="0.1851" stop-color="#dcdcdc"/><stop offset="0.2868" stop-color="#e2e2e2"/><stop offset="0.3975" stop-color="#e5e5e5"/><stop offset="0.5626" stop-color="#e5e5e5"/><stop offset="0.6878" stop-color="#e3e3e3"/><stop offset="0.7858" stop-color="#dedede"/><stop offset="0.8802" stop-color="#d7d7d7"/><stop offset="0.9728" stop-color="#cccccc"/><stop offset="1" stop-color="#c9c9c9"/></linearGradient>
<linearGradient id="b77" x1="0" x2="1"><stop offset="0" stop-color="#c8c8c8"/><stop offset="0.09256" stop-color="#d4d4d4"/><stop offset="0.1851" stop-color="#dcdcdc"/><stop offset="0.2868" stop-color="#e2e2e2"/><stop offset="0.3993" stop-color="#e4e4e4"/><stop offset="0.5662" stop-color="#e5e5e5"/><stop offset="0.6897" stop-color="#e2e2e2"/><stop offset="0.7895" stop-color="#dedede"/><stop offset="0.8838" stop-color="#d6d6d6"/><stop offset="0.9764" stop-color="#cccccc"/><stop offset="1" stop-color="#c8c8c8"/></linearGradient>
<linearGradient id="b78" x1="0" x2="1"><stop offset="0" stop-color="#c8c8c8"/><stop offset="0.09256" stop-color="#d3d3d3"/><stop offset="0.1851" stop-color="#dcdcdc"/><stop offset="0.2868" stop-color="#e1e1e1"/><stop offset="0.3993" stop-color="#e4e4e4"/><stop offset="0.5662" stop-color="#e4e4e4"/><stop offset="0.6897" stop-color="#e2e2e2"/><stop offset="0.7895" stop-color="#dddddd"/><stop offset="0.8838" stop-color="#d6d6d6"/><stop offset="0.9764" stop-color="#cbcbcb"/><stop offset="1" stop-color="#c8c8c8"/></linearGradient>
<linearGradient id="b79" x1="0" x2="1"><stop offset="0" stop-color="#c8c8c8"/><stop offset="0.09437" stop-color="#d3d3d3"/><stop offset="0.1887" stop-color="#dcdcdc"/><stop offset="0.2904" stop-color="#e1e1e1"/><stop offset="0.4047" stop-color="#e4e4e4"/><stop offset="0.5735" stop-color="#e4e4e4"/><stop offset="0.6951" stop-color="#e2e2e2"/><stop offset="0.7949" stop-color="#dddddd"/><stop offset="0.8893" stop-color="#d5d5d5"/><stop offset="0.9819" stop-color="#cacaca"/><stop offset="1" stop-color="#c8c8c8"/></linearGradient>
<linearGradient id="b80" x1="0" x2="1"><stop offset="0" stop-color="#c8c8c8"/><stop offset="0.09437" stop-color="#d3d3d3"/><stop offset="0.1887" stop-color="#dbdbdb"/><stop offset="0.2904" stop-color="#e1e1e1"/><stop offset="0.4065" stop-color="#e3e3e3"/><stop offset="0.5753" stop-color="#e4e4e4"/><stop offset="0.6969" stop-color="#e1e1e1"/><stop offset="0.7985" stop-color="#dcdcdc"/><stop offset="0.8929" stop-color="#d4d4d4"/><stop offset="0.9855" stop-color="#cacaca"/><stop offset="1" stop-color="#c8c8c8"/></linearGradient>
<linearGradient id="b81" x1="0" x2="1"><stop offset="0" stop-color="#c7c7c7"/><stop offset="0.09437" stop-color="#d3d3d3"/><stop offset="0.1887" stop-color="#dbdbdb"/><stop offset="0.2904" stop-color="#e0e0e0"/><stop offset="0.4065" stop-color="#e3e3e3"/><stop offset="0.5771" stop-color="#e3e3e3"/><stop offset="0.6987" stop-color="#e1e1e1"/><stop offset="0.8004" stop-color="#dcdcdc"/><stop offset="0.8947" stop-color="#d4d4d4"/><stop offset="0.9891" stop-color="#c9c9c9"/><stop offset="1" stop-color="#c7c7c7"/></linearGradient>
<linearGradient id="b82" x1="0" x2="1"><stop offset="0" stop-color="#c7c7c7"/><stop offset="0.09437" stop-color="#d3d3d3"/><stop offset="0.1887" stop-color="#dbdbdb"/><stop offset="0.2904" stop-color="#e0e0e0"/><stop offset="0.4083" stop-color="#e3e3e3"/><stop offset="0.5789" stop-color="#e3e3e3"/><stop offset="0.7005" stop-color="#e0e0e0"/><stop offset="0.8022" stop-color="#dbdbdb"/><stop offset="0.8966" stop-color="#d3d3d3"/><stop offset="0.9909" stop-color="#c8c8c8"/><stop offset="1" stop-color="#c7c7c7"/></linearGradient>
<linearGradient id="b83" x1="0" x2="1"><stop offset="0" stop-color="#c7c7c7"/><stop offset="0.09437" stop-color="#d2d2d2"/><stop offset="0.1887" stop-color="#dadada"/><stop offset="0.2904" stop-color="#e0e0e0"/><stop offset="0.4083" stop-color="#e2e2e2"/><stop offset="0.5789" stop-color="#e3e3e3"/><stop offset="0.7005" stop-color="#e0e0e0"/><stop offset="0.8022" stop-color="#dbdbdb"/><stop offset="0.8966" stop-color="#d3d3d3"/><stop offset="0.9909" stop-color="#c8c8c8"/><stop offset="1" stop-color="#c7c7c7"/></linearGradient>
<linearGradient id="b84" x1="0" x2="1"><stop offset="0" stop-color="#c7c7c7"/><stop offset="0.09437" stop-color="#d2d2d2"/><stop offset="0.1887" stop-color="#dadada"/><stop offset="0.2904" stop-color="#dfdfdf"/><stop offset="0.4083" stop-color="#e2e2e2"/><stop offset="0.5789" stop-color="#e2e2e2"/><stop offset="0.7005" stop-color="#e0e0e0"/><stop offset="0.8022" stop-color="#dbdbdb"/><stop offset="0.8966" stop-color="#d3d3d3"/><stop offset="0.9909" stop-color="#c8c8c8"/><stop offset="1" stop-color="#c7c7c7"/></linearGradient>
<linearGradient id="b85" x1="0" x2="1"><stop offset="0" stop-color="#c7c7c7"/><stop offset="0.09437" stop-color="#d2d2d2"/><stop offset="0.1887" stop-color="#dadada"/><stop offset="0.2904" stop-color="#dfdfdf"/><stop offset="0.4102" stop-color="#e2e2e2"/><stop offset="0.5826" stop-color="#e2e2e2"/><stop offset="0.7042" stop-color="#dfdfdf"/><stop offset="0.8058" stop-color="#dadada"/><stop offset="0.9002" stop-color="#d2d2d2"/><stop offset="0.9946" stop-color="#c7c7c7"/><stop offset="1" stop-color="#c7c7c7"/></linearGradient>
<linearGradient id="b86" x1="0" x2="1"><stop offset="0" stop-color="#c6c6c6"/><stop offset="0.09437" stop-color="#d1d1d1"/><stop offset="0.1887" stop-color="#d9d9d9"/><stop offset="0.2904" stop-color="#dfdfdf"/><stop offset="0.4102" stop-color="#e1e1e1"/><stop offset="0.5826" stop-color="#e2e2e2"/><stop offset="0.7042" stop-color="#dfdfdf"/><stop offset="0.8076" stop-color="#dadada"/><stop offset="0.902" stop-color="#d2d2d2"/><stop offset="0.9964" stop-color="#c7c7c7"/><stop offset="1" stop-color="#c6c6c6"/></linearGradient>
<linearGradient id="b87" x1="0" x2="1"><stop offset="0" stop-color="#c6c6c6"/><stop offset="0.09437" stop-color="#d1d1d1"/><stop offset="0.1887" stop-color="#d9d9d9"/><stop offset="0.2922" stop-color="#dedede"/><stop offset="0.4138" stop-color="#e1e1e1"/><stop offset="0.5862" stop-color="#e1e1e1"/><stop offset="0.7078" stop-color="#dedede"/><stop offset="0.8113" stop-color="#d9d9d9"/><stop offset="0.9056" stop-color="#d1d1d1"/><stop offset="1" stop-color="#c6c6c6"/></linearGradient>
<linearGradient id="b88" x1="0" x2="1"><stop offset="0" stop-color="#c6c6c6"/><stop offset="0.09437" stop-color="#d1d1d1"/><stop offset="0.1887" stop-color="#d9d9d9"/><stop offset="0.2922" stop-color="#dedede"/><stop offset="0.4138" stop-color="#e1e1e1"/><stop offset="0.5862" stop-color="#e1e1e1"/><stop offset="0.7078" stop-color="#dedede"/><stop offset="0.8113" stop-color="#d9d9d9"/><stop offset="0.9056" stop-color="#d1d1d1"/><stop offset="1" stop-color="#c6c6c6"/></linearGradient>
<linearGradient id="b89" x1="0" x2="1"><stop offset="0" stop-color="#c6c6c6"/><stop offset="0.09437" stop-color="#d1d1d1"/><stop offset="0.1887" stop-color="#d9d9d9"/><stop offset="0.2922" stop-color="#dedede"/><stop offset="0.4138" stop-color="#e0e0e0"/><stop offset="0.588" stop-color="#e0e0e0"/><stop offset="0.7096" stop-color="#dedede"/><stop offset="0.8131" stop-color="#d8d8d8"/><stop offset="0.9074" stop-color="#d1d1d1"/><stop offset="1" stop-color="#c6c6c6"/></linearGradient>
<linearGradient id="b90" x1="0" x2="1"><stop offset="0" stop-color="#c6c6c6"/><stop offset="0.09437" stop-color="#d0d0d0"/><stop offset="0.1887" stop-color="#d8d8d8"/><stop offset="0.294" stop-color="#dddddd"/><stop offset="0.4174" stop-color="#e0e0e0"/><stop offset="0.5917" stop-color="#e0e0e0"/><stop offset="0.7132" stop-color="#dddddd"/><stop offset="0.8167" stop-color="#d8d8d8"/><stop offset="0.9111" stop-color="#d0d0d0"/><stop offset="1" stop-color="#c6c6c6"/></linearGradient>
<linearGradient id="b91" x1="0" x2="1"><stop offset="0" stop-color="#c5c5c5"/><stop offset="0.09437" stop-color="#d0d0d0"/><stop offset="0.1887" stop-color="#d8d8d8"/><stop offset="0.294" stop-color="#dddddd"/><stop offset="0.4174" stop-color="#e0e0e0"/><stop offset="0.5917" stop-color="#e0e0e0"/><stop offset="0.7132" stop-color="#dddddd"/><stop offset="0.8185" stop-color="#d7d7d7"/><stop offset="0.9129" stop-color="#cfcfcf"/><stop offset="1" stop-color="#c5c5c5"/></linearGradient>
<linearGradient id="b92" x1="0" x2="1"><stop offset="0" stop-color="#c5c5c5"/><stop offset="0.09437" stop-color="#d0d0d0"/><stop offset="0.1887" stop-color="#d8d8d8"/><stop offset="0.2958" stop-color="#dddddd"/><stop offset="0.4211" stop-color="#e0e0e0"/><stop offset="0.5953" stop-color="#dfdfdf"/><stop offset="0.7169" stop-color="#dcdcdc"/><stop offset="0.8221" stop-color="#d7d7d7"/><stop offset="0.9165" stop-color="#cfcfcf"/><stop offset="1" stop-color="#c5c5c5"/></linearGradient>
<linearGradient id="b93" x1="0" x2="1"><stop offset="0" stop-color="#c5c5c5"/><stop offset="0.09437" stop-color="#d0d0d0"/><stop offset="0.1887" stop-color="#d7d7d7"/><stop offset="0.2958" stop-color="#dddddd"/><stop offset="0.4211" stop-color="#dfdfdf"/><stop offset="0.5953" stop-color="#dfdfdf"/><stop offset="0.7187" stop-color="#dcdcdc"/><stop offset="0.824" stop-color="#d6d6d6"/><stop offset="0.9183" stop-color="#cecece"/><stop offset="1" stop-color="#c5c5c5"/></linearGradient>
<linearGradient id="b94" x1="0" x2="1"><stop offset="0" stop-color="#c5c5c5"/><stop offset="0.09437" stop-color="#cfcfcf"/><stop offset="0.1887" stop-color="#d7d7d7"/><stop offset="0.2958" stop-color="#dcdcdc"/><stop offset="0.4211" stop-color="#dfdfdf"/><stop offset="0.5953" stop-color="#dfdfdf"/><stop offset="0.7187" stop-color="#dcdcdc"/><stop offset="0.8258" stop-color="#d6d6d6"/><stop offset="0.9201" stop-color="#cecece"/><stop offset="1" stop-color="#c5c5c5"/></linearGradient>
<linearGradient id="b95" x1="0" x2="1"><stop offset="0" stop-color="#c5c5c5"/><stop offset="0.09437" stop-color="#cfcfcf"/><stop offset="0.1887" stop-color="#d7d7d7"/><stop offset="0.2976" stop-color="#dcdcdc"/><stop offset="0.4247" stop-color="#dfdfdf"/><stop offset="0.5989" stop-color="#dedede"/><stop offset="0.7223" stop-color="#dbdbdb"/><stop offset="0.8294" stop-color="#d5d5d5"/><stop offset="0.9238" stop-color="#cdcdcd"/><stop offset="1" stop-color="#c5c5c5"/></linearGradient>
<linearGradient id="b96" x1="0" x2="1"><stop offset="0" stop-color="#c4c4c4"/><stop offset="0.09437" stop-color="#cfcfcf"/><stop offset="0.1906" stop-color="#d6d6d6"/><stop offset="0.2995" stop-color="#dcdcdc"/><stop offset="0.4265" stop-color="#dedede"/><stop offset="0.5989" stop-color="#dedede"/><stop offset="0.7241" stop-color="#dbdbdb"/><stop offset="0.8312" stop-color="#d5d5d5"/><stop offset="0.9256" stop-color="#cdcdcd"/><stop offset="1" stop-color="#c4c4c4"/></linearGradient>
<linearGradient id="b97" x1="0" x2="1"><stop offset="0" stop-color="#c4c4c4"/><stop offset="0.09437" stop-color="#cfcfcf"/><stop offset="0.1906" stop-color="#d6d6d6"/><stop offset="0.2995" stop-color="#dbdbdb"/><stop offset="0.4265" stop-color="#dedede"/><stop offset="0.5971" stop-color="#dedede"/><stop offset="0.7223" stop-color="#dadada"/><stop offset="0.8294" stop-color="#d5d5d5"/><stop offset="0.9238" stop-color="#cdcdcd"/><stop offset="1" stop-color="#c4c4c4"/></linearGradient>
<linearGradient id="b98" x1="0" x2="1"><stop offset="0" stop-color="#c4c4c4"/><stop offset="0.09437" stop-color="#cecece"/><stop offset="0.1906" stop-color="#d6d6d6"/><stop offset="0.3013" stop-color="#dbdbdb"/><stop offset="0.4301" stop-color="#dedede"/><stop offset="0.5971" stop-color="#dddddd"/><stop offset="0.7223" stop-color="#dadada"/><stop offset="0.8294" stop-color="#d5d5d5"/><stop offset="0.9238" stop-color="#cdcdcd"/><stop offset="1" stop-color="#c4c4c4"/></linearGradient>
<linearGradient id="b99" x1="0" x2="1"><stop offset="0" stop-color="#c4c4c4"/><stop offset="0.09437" stop-color="#cecece"/><stop offset="0.1906" stop-color="#d5d5d5"/><stop offset="0.3013" stop-color="#dbdbdb"/><stop offset="0.4319" stop-color="#dddddd"/><stop offset="0.5971" stop-color="#dddddd"/><stop offset="0.7223" stop-color="#dadada"/><stop offset="0.8294" stop-color="#d4d4d4"/><stop offset="0.9238" stop-color="#cccccc"/><stop offset="1" stop-color="#c4c4c4"/></linearGradient>
<linearGradient id="b100" x1="0" x2="1"><stop offset="0" stop-color="#c3c3c3"/><stop offset="0.09437" stop-color="#cecece"/><stop offset="0.1906" stop-color="#d5d5d5"/><stop offset="0.3013" stop-color="#dadada"/><stop offset="0.4319" stop-color="#dddddd"/><stop offset="0.5953" stop-color="#dddddd"/><stop offset="0.7223" stop-color="#d9d9d9"/><stop offset="0.8294" stop-color="#d4d4d4"/><stop offset="0.9238" stop-color="#cccccc"/><stop offset="1" stop-color="#c3c3c3"/></linearGradient>
<linearGradient id="b101" x1="0" x2="1"><stop offset="0" stop-color="#c3c3c3"/><stop offset="0.09437" stop-color="#cecece"/><stop offset="0.1906" stop-color="#d5d5d5"/><stop offset="0.3031" stop-color="#dadada"/><stop offset="0.4356" stop-color="#dcdcdc"/><stop offset="0.5971" stop-color="#dcdcdc"/><stop offset="0.7241" stop-color="#d9d9d9"/><stop offset="0.8312" stop-color="#d3d3d3"/><stop offset="0.9274" stop-color="#cbcbcb"/><stop offset="1" stop-color="#c3c3c3"/></linearGradient>
<linearGradient id="b102" x1="0" x2="1"><stop offset="0" stop-color="#c3c3c3"/><stop offset="0.09437" stop-color="#cdcdcd"/><stop offset="0.1924" stop-color="#d5d5d5"/><stop offset="0.3049" stop-color="#dadada"/><stop offset="0.4392" stop-color="#dcdcdc"/><stop offset="0.5989" stop-color="#dcdcdc"/><stop offset="0.726" stop-color="#d9d9d9"/><stop offset="0.8348" stop-color="#d3d3d3"/><stop offset="0.931" stop-color="#cbcbcb"/><stop offset="1" stop-color="#c3c3c3"/></linearGradient>
<linearGradient id="b103" x1="0" x2="1"><stop offset="0" stop-color="#c3c3c3"/><stop offset="0.09437" stop-color="#cdcdcd"/><stop offset="0.1924" stop-color="#d4d4d4"/><stop offset="0.3049" stop-color="#d9d9d9"/><stop offset="0.441" stop-color="#dcdcdc"/><stop offset="0.5989" stop-color="#dbdbdb"/><stop offset="0.7278" stop-color="#d8d8d8"/><stop offset="0.8367" stop-color="#d2d2d2"/><stop offset="0.9328" stop-color="#cacaca"/><stop offset="1" stop-color="#c3c3c3"/></linearGradient>
<linearGradient id="b104" x1="0" x2="1"><stop offset="0" stop-color="#c3c3c3"/><stop offset="0.09437" stop-color="#cdcdcd"/><stop offset="0.1924" stop-color="#d4d4d4"/><stop offset="0.3067" stop-color="#d9d9d9"/><stop offset="0.4446" stop-color="#dbdbdb"/><stop offset="0.5989" stop-color="#dbdbdb"/><stop offset="0.7278" stop-color="#d8d8d8"/><stop offset="0.8367" stop-color="#d2d2d2"/><stop offset="0.9328" stop-color="#cacaca"/><stop offset="1" stop-color="#c3c3c3"/></linearGradient>
<linearGradient id="b105" x1="0" x2="1"><stop offset="0" stop-color="#c2c2c2"/><stop offset="0.09437" stop-color="#cccccc"/><stop offset="0.1924" stop-color="#d4d4d4"/><stop offset="0.3067" stop-color="#d9d9d9"/><stop offset="0.4465" stop-color="#dbdbdb"/><stop offset="0.6007" stop-color="#dbdbdb"/><stop offset="0.7296" stop-color="#d7d7d7"/><stop offset="0.8385" stop-color="#d2d2d2"/><stop offset="0.9347" stop-color="#cacaca"/><stop offset="1" stop-color="#c2c2c2"/></linearGradient>
<linearGradient id="b106" x1="0" x2="1"><stop offset="0" stop-color="#c2c2c2"/><stop offset="0.09437" stop-color="#cccccc"/><stop offset="0.1924" stop-color="#d3d3d3"/><stop offset="0.3067" stop-color="#d8d8d8"/><stop offset="0.4465" stop-color="#dbdbdb"/><stop offset="0.5989" stop-color="#dadada"/><stop offset="0.7296" stop-color="#d7d7d7"/><stop offset="0.8385" stop-color="#d1d1d1"/><stop offset="0.9347" stop-color="#c9c9c9"/><stop offset="1" stop-color="#c2c2c2"/></linearGradient>
<linearGradient id="b107" x1="0" x2="1"><stop offset="0" stop-color="#c2c2c2"/><stop offset="0.09437" stop-color="#cccccc"/><stop offset="0.1942" stop-color="#d3d3d3"/><stop offset="0.3103" stop-color="#d8d8d8"/><stop offset="0.4537" stop-color="#dadada"/><stop offset="0.6044" stop-color="#dadada"/><stop offset="0.7332" stop-color="#d7d7d7"/><stop offset="0.8421" stop-color="#d1d1d1"/><stop offset="0.9383" stop-color="#c9c9c9"/><stop offset="1" stop-color="#c2c2c2"/></linearGradient>
<linearGradient id="b108" x1="0" x2="1"><stop offset="0" stop-color="#c2c2c2"/><stop offset="0.09256" stop-color="#cbcbcb"/><stop offset="0.1924" stop-color="#d3d3d3"/><stop offset="0.3085" stop-color="#d8d8d8"/><stop offset="0.4519" stop-color="#dadada"/><stop offset="0.6007" stop-color="#d9d9d9"/><stop offset="0.7314" stop-color="#d6d6d6"/><stop offset="0.8421" stop-color="#d1d1d1"/><stop offset="0.9383" stop-color="#c9c9c9"/><stop offset="1" stop-color="#c2c2c2"/></linearGradient>
<linearGradient id="b109" x1="0" x2="1"><stop offset="0" stop-color="#c2c2c2"/><stop offset="0.09256" stop-color="#cbcbcb"/><stop offset="0.1924" stop-color="#d2d2d2"/><stop offset="0.3103" stop-color="#d7d7d7"/><stop offset="0.4555" stop-color="#dadada"/><stop offset="0.6044" stop-color="#d9d9d9"/><stop offset="0.735" stop-color="#d6d6d6"/><stop offset="0.8457" stop-color="#d0d0d0"/><stop offset="0.9419" stop-color="#c8c8c8"/><stop offset="1" stop-color="#c2c2c2"/></linearGradient>
<linearGradient id="b110" x1="0" x2="1"><stop offset="0" stop-color="#c1c1c1"/><stop offset="0.09256" stop-color="#cbcbcb"/><stop offset="0.1924" stop-color="#d2d2d2"/><stop offset="0.3103" stop-color="#d7d7d7"/><stop offset="0.4574" stop-color="#d9d9d9"/><stop offset="0.6044" stop-color="#d9d9d9"/><stop offset="0.735" stop-color="#d5d5d5"/><stop offset="0.8475" stop-color="#d0d0d0"/><stop offset="0.9437" stop-color="#c8c8c8"/><stop offset="1" stop-color="#c1c1c1"/></linearGradient>
<linearGradient id="b111" x1="0" x2="1"><stop offset="0" stop-color="#c1c1c1"/><stop offset="0.09256" stop-color="#cbcbcb"/><stop offset="0.1924" stop-color="#d2d2d2"/><stop offset="0.3122" stop-color="#d7d7d7"/><stop offset="0.461" stop-color="#d9d9d9"/><stop offset="0.608" stop-color="#d8d8d8"/><stop offset="0.7405" stop-color="#d5d5d5"/><stop offset="0.8512" stop-color="#cfcfcf"/><stop offset="0.9474" stop-color="#c7c7c7"/><stop offset="1" stop-color="#c1c1c1"/></linearGradient>
<linearGradient id="b112" x1="0" x2="1"><stop offset="0" stop-color="#c1c1c1"/><stop offset="0.09256" stop-color="#cacaca"/><stop offset="0.1942" stop-color="#d1d1d1"/><stop offset="0.314" stop-color="#d6d6d6"/><stop offset="0.4628" stop-color="#d9d9d9"/><stop offset="0.6098" stop-color="#d8d8d8"/><stop offset="0.7423" stop-color="#d4d4d4"/><stop offset="0.853" stop-color="#cfcfcf"/><stop offset="0.9492" stop-color="#c7c7c7"/><stop offset="1" stop-color="#c1c1c1"/></linearGradient>
<linearGradient id="b113" x1="0" x2="1"><stop offset="0" stop-color="#c1c1c1"/><stop offset="0.09256" stop-color="#cacaca"/><stop offset="0.1942" stop-color="#d1d1d1"/><stop offset="0.3158" stop-color="#d6d6d6"/><stop offset="0.4664" stop-color="#d8d8d8"/><stop offset="0.6134" stop-color="#d7d7d7"/><stop offset="0.7459" stop-color="#d4d4d4"/><stop offset="0.8566" stop-color="#cecece"/><stop offset="0.9528" stop-color="#c6c6c6"/><stop offset="1" stop-color="#c1c1c1"/></linearGradient>
<linearGradient id="b114" x1="0" x2="1"><stop offset="0" stop-color="#c1c1c1"/><stop offset="0.09256" stop-color="#cacaca"/><stop offset="0.1942" stop-color="#d1d1d1"/><stop offset="0.3158" stop-color="#d6d6d6"/><stop offset="0.4664" stop-color="#d8d8d8"/><stop offset="0.6116" stop-color="#d7d7d7"/><stop offset="0.7459" stop-color="#d3d3d3"/><stop offset="0.8566" stop-color="#cecece"/><stop offset="0.9528" stop-color="#c6c6c6"/><stop offset="1" stop-color="#c1c1c1"/></linearGradient>
<linearGradient id="b115" x1="0" x2="1"><stop offset="0" stop-color="#c0c0c0"/><stop offset="0.09256" stop-color="#cacaca"/><stop offset="0.196" stop-color="#d0d0d0"/><stop offset="0.3194" stop-color="#d5d5d5"/><stop offset="0.4719" stop-color="#d8d8d8"/><stop offset="0.6189" stop-color="#d7d7d7"/><stop offset="0.7514" stop-color="#d3d3d3"/><stop offset="0.8621" stop-color="#cdcdcd"/><stop offset="0.9583" stop-color="#c5c5c5"/><stop offset="1" stop-color="#c0c0c0"/></linearGradient>
<linearGradient id="b116" x1="0" x2="1"><stop offset="0" stop-color="#c0c0c0"/><stop offset="0.09074" stop-color="#c9c9c9"/><stop offset="0.1942" stop-color="#d0d0d0"/><stop offset="0.3194" stop-color="#d5d5d5"/><stop offset="0.4737" stop-color="#d7d7d7"/><stop offset="0.6207" stop-color="#d6d6d6"/><stop offset="0.755" stop-color="#d2d2d2"/><stop offset="0.8657" stop-color="#cccccc"/><stop offset="0.9619" stop-color="#c4c4c4"/><stop offset="1" stop-color="#c0c0c0"/></linearGradient>
<linearGradient id="b117" x1="0" x2="1"><stop offset="0" stop-color="#c0c0c0"/><stop offset="0.09074" stop-color="#c9c9c9"/><stop offset="0.196" stop-color="#d0d0d0"/><stop offset="0.3212" stop-color="#d5d5d5"/><stop offset="0.4755" stop-color="#d7d7d7"/><stop offset="0.6225" stop-color="#d6d6d6"/><stop offset="0.7568" stop-color="#d2d2d2"/><stop offset="0.8675" stop-color="#cccccc"/><stop offset="0.9637" stop-color="#c4c4c4"/><stop offset="1" stop-color="#c0c0c0"/></linearGradient>
<linearGradient id="b118" x1="0" x2="1"><stop offset="0" stop-color="#c0c0c0"/><stop offset="0.09074" stop-color="#c9c9c9"/><stop offset="0.196" stop-color="#cfcfcf"/><stop offset="0.323" stop-color="#d4d4d4"/><stop offset="0.4791" stop-color="#d7d7d7"/><stop offset="0.6279" stop-color="#d5d5d5"/><stop offset="0.7623" stop-color="#d1d1d1"/><stop offset="0.8711" stop-color="#cbcbcb"/><stop offset="0.9673" stop-color="#c3c3c3"/><stop offset="1" stop-color="#c0c0c0"/></linearGradient>
<linearGradient id="b119" x1="0" x2="1"><stop offset="0" stop-color="#c0c0c0"/><stop offset="0.09074" stop-color="#c8c8c8"/><stop offset="0.196" stop-color="#cfcfcf"/><stop offset="0.323" stop-color="#d4d4d4"/><stop offset="0.4809" stop-color="#d6d6d6"/><stop offset="0.6316" stop-color="#d5d5d5"/><stop offset="0.7659" stop-color="#d1d1d1"/><stop offset="0.8748" stop-color="#cbcbcb"/><stop offset="0.971" stop-color="#c3c3c3"/><stop offset="1" stop-color="#c0c0c0"/></linearGradient>
<linearGradient id="b120" x1="0" x2="1"><stop offset="0" stop-color="#bfbfbf"/><stop offset="0.09074" stop-color="#c8c8c8"/><stop offset="0.1978" stop-color="#cfcfcf"/><stop offset="0.3267" stop-color="#d4d4d4"/><stop offset="0.4864" stop-color="#d6d6d6"/><stop offset="0.6407" stop-color="#d4d4d4"/><stop offset="0.775" stop-color="#d0d0d0"/><stop offset="0.882" stop-color="#cacaca"/><stop offset="0.9764" stop-color="#c2c2c2"/><stop offset="1" stop-color="#bfbfbf"/></linearGradient>
<linearGradient id="b121" x1="0" x2="1"><stop offset="0" stop-color="#bfbfbf"/><stop offset="0.09074" stop-color="#c8c8c8"/><stop offset="0.1978" stop-color="#cfcfcf"/><stop offset="0.3267" stop-color="#d3d3d3"/><stop offset="0.4882" stop-color="#d5d5d5"/><stop offset="0.6443" stop-color="#d4d4d4"/><stop offset="0.7786" stop-color="#d0d0d0"/><stop offset="0.8857" stop-color="#cacaca"/><stop offset="0.98" stop-color="#c1c1c1"/><stop offset="1" stop-color="#bfbfbf"/></linearGradient>
<linearGradient id="b122" x1="0" x2="1"><stop offset="0" stop-color="#bfbfbf"/><stop offset="0.09074" stop-color="#c7c7c7"/><stop offset="0.1978" stop-color="#cecece"/><stop offset="0.3285" stop-color="#d3d3d3"/><stop offset="0.49" stop-color="#d5d5d5"/><stop offset="0.6479" stop-color="#d3d3d3"/><stop offset="0.7822" stop-color="#cfcfcf"/><stop offset="0.8893" stop-color="#c9c9c9"/><stop offset="0.9819" stop-color="#c1c1c1"/><stop offset="1" stop-color="#bfbfbf"/></linearGradient>
<linearGradient id="b123" x1="0" x2="1"><stop offset="0" stop-color="#bfbfbf"/><stop offset="0.09074" stop-color="#c7c7c7"/><stop offset="0.1978" stop-color="#cecece"/><stop offset="0.3285" stop-color="#d2d2d2"/><stop offset="0.49" stop-color="#d5d5d5"/><stop offset="0.6479" stop-color="#d3d3d3"/><stop offset="0.7822" stop-color="#cfcfcf"/><stop offset="0.8893" stop-color="#c9c9c9"/><stop offset="0.9819" stop-color="#c1c1c1"/><stop offset="1" stop-color="#bfbfbf"/></linearGradient>
<linearGradient id="b124" x1="0" x2="1"><stop offset="0" stop-color="#bebebe"/><stop offset="0.09074" stop-color="#c7c7c7"/><stop offset="0.1978" stop-color="#cecece"/><stop offset="0.3285" stop-color="#d2d2d2"/><stop offset="0.4918" stop-color="#d4d4d4"/><stop offset="0.6515" stop-color="#d3d3d3"/><stop offset="0.7858" stop-color="#cecece"/><stop offset="0.8929" stop-color="#c8c8c8"/><stop offset="0.9855" stop-color="#c0c0c0"/><stop offset="1" stop-color="#bebebe"/></linearGradient>
</defs>
<rect x="0" y="0" width="1653" height="8" fill="url(#b0)"/>
<rect x="0" y="8" width="1653" height="8" fill="url(#b1)"/>
<rect x="0" y="16" width="1653" height="8" fill="url(#b2)"/>
<rect x="0" y="24" width="1653" height="8" fill="url(#b3)"/>
<rect x="0" y="32" width="1653" height="8" fill="url(#b4)"/>
<rect x="0" y="40" width="1653" height="8" fill="url(#b5)"/>
<rect x="0" y="48" width="1653" height="8" fill="url(#b6)"/>
<rect x="0" y="56" width="1653" height="8" fill="url(#b7)"/>
<rect x="0" y="64" width="1653" height="8" fill="url(#b8)"/>
<rect x="0" y="72" width="1653" height="8" fill="url(#b9)"/>
<rect x="0" y="80" width="1653" height="8" fill="url(#b10)"/>
<rect x="0" y="88" width="1653" height="8" fill="url(#b11)"/>
<rect x="0" y="96" width="1653" height="8" fill="url(#b12)"/>
<rect x="0" y="104" width="1653" height="8" fill="url(#b13)"/>
<rect x="0" y="112" width="1653" height="8" fill="url(#b14)"/>
<rect x="0" y="120" width="1653" height="8" fill="url(#b15)"/>
<rect x="0" y="128" width="1653" height="8" fill="url(#b16)"/>
<rect x="0" y="136" width="1653" height="8" fill="url(#b17)"/>
<rect x="0" y="144" width="1653" height="8" fill="url(#b18)"/>
<rect x="0" y="152" width="1653" height="8" fill="url(#b19)"/>
<rect x="0" y="160" width="1653" height="8" fill="url(#b20)"/>
<rect x="0" y="168" width="1653" height="8" fill="url(#b21)"/>
<rect x="0" y="176" width="1653" height="8" fill="url(#b22)"/>
<rect x="0" y="184" width="1653" height="8" fill="url(#b23)"/>
<rect x="0" y="192" width="1653" height="8" fill="url(#b24)"/>
<rect x="0" y="200" width="1653" height="8" fill="url(#b25)"/>
<rect x="0" y="208" width="1653" height="8" fill="url(#b26)"/>
<rect x="0" y="216" width="1653" height="8" fill="url(#b27)"/>
<rect x="0" y="224" width="1653" height="8" fill="url(#b28)"/>
<rect x="0" y="232" width="1653" height="8" fill="url(#b29)"/>
<rect x="0" y="240" width="1653" height="8" fill="url(#b30)"/>
<rect x="0" y="248" width="1653" height="8" fill="url(#b31)"/>
<rect x="0" y="256" width="1653" height="8" fill="url(#b32)"/>
<rect x="0" y="264" width="1653" height="8" fill="url(#b33)"/>
<rect x="0" y="272" width="1653" height="8" fill="url(#b34)"/>
<rect x="0" y="280" width="1653" height="8" fill="url(#b35)"/>
<rect x="0" y="288" width="1653" height="8" fill="url(#b36)"/>
<rect x="0" y="296" width="1653" height="8" fill="url(#b37)"/>
<rect x="0" y="304" width="1653" height="8" fill="url(#b38)"/>
<rect x="0" y="312" width="1653" height="8" fill="url(#b39)"/>
<rect x="0" y="320" width="1653" height="8" fill="url(#b40)"/>
<rect x="0" y="328" width="1653" height="8" fill="url(#b41)"/>
<rect x="0" y="336" width="1653" height="8" fill="url(#b42)"/>
<rect x="0" y="344" width="1653" height="8" fill="url(#b43)"/>
<rect x="0" y="352" width="1653" height="8" fill="url(#b44)"/>
<rect x="0" y="360" width="1653" height="8" fill="url(#b45)"/>
<rect x="0" y="368" width="1653" height="8" fill="url(#b46)"/>
<rect x="0" y="376" width="1653" height="8" fill="url(#b47)"/>
<rect x="0" y="384" width="1653" height="8" fill="url(#b48)"/>
<rect x="0" y="392" width="1653" height="8" fill="url(#b49)"/>
<rect x="0" y="400" width="1653" height="8" fill="url(#b50)"/>
<rect x="0" y="408" width="1653" height="8" fill="url(#b51)"/>
<rect x="0" y="416" width="1653" height="8" fill="url(#b52)"/>
<rect x="0" y="424" width="1653" height="8" fill="url(#b53)"/>
<rect x="0" y="432" width="1653" height="8" fill="url(#b54)"/>
<rect x="0" y="440" width="1653" height="8" fill="url(#b55)"/>
<rect x="0" y="448" width="1653" height="8" fill="url(#b56)"/>
<rect x="0" y="456" width="1653" height="8" fill="url(#b57)"/>
<rect x="0" y="464" width="1653" height="8" fill="url(#b58)"/>
<rect x="0" y="472" width="1653" height="8" fill="url(#b59)"/>
<rect x="0" y="480" width="1653" height="8" fill="url(#b60)"/>
<rect x="0" y="488" width="1653" height="8" fill="url(#b61)"/>
<rect x="0" y="496" width="1653" height="8" fill="url(#b62)"/>
<rect x="0" y="504" width="1653" height="8" fill="url(#b63)"/>
<rect x="0" y="512" width="1653" height="8" fill="url(#b64)"/>
<rect x="0" y="520" width="1653" height="8" fill="url(#b65)"/>
<rect x="0" y="528" width="1653" height="8" fill="url(#b66)"/>
<rect x="0" y="536" width="1653" height="8" fill="url(#b67)"/>
<rect x="0" y="544" width="1653" height="8" fill="url(#b68)"/>
<rect x="0" y="552" width="1653" height="8" fill="url(#b69)"/>
<rect x="0" y="560" width="1653" height="8" fill="url(#b70)"/>
<rect x="0" y="568" width="1653" height="8" fill="url(#b71)"/>
<rect x="0" y="576" width="1653" height="8" fill="url(#b72)"/>
<rect x="0" y="584" width="1653" height="8" fill="url(#b73)"/>
<rect x="0" y="592" width="1653" height="8" fill="url(#b74)"/>
<rect x="0" y="600" width="1653" height="8" fill="url(#b75)"/>
<rect x="0" y="608" width="1653" height="8" fill="url(#b76)"/>
<rect x="0" y="616" width="1653" height="8" fill="url(#b77)"/>
<rect x="0" y="624" width="1653" height="8" fill="url(#b78)"/>
<rect x="0" y="632" width="1653" height="8" fill="url(#b79)"/>
<rect x="0" y="640" width="1653" height="8" fill="url(#b80)"/>
<rect x="0" y="648" width="1653" height="8" fill="url(#b81)"/>
<rect x="0" y="656" width="1653" height="8" fill="url(#b82)"/>
<rect x="0" y="664" width="1653" height="8" fill="url(#b83)"/>
<rect x="0" y="672" width="1653" height="8" fill="url(#b84)"/>
<rect x="0" y="680" width="1653" height="8" fill="url(#b85)"/>
<rect x="0" y="688" width="1653" height="8" fill="url(#b86)"/>
<rect x="0" y="696" width="1653" height="8" fill="url(#b87)"/>
<rect x="0" y="704" width="1653" height="8" fill="url(#b88)"/>
<rect x="0" y="712" width="1653" height="8" fill="url(#b89)"/>
<rect x="0" y="720" width="1653" height="8" fill="url(#b90)"/>
<rect x="0" y="728" width="1653" height="8" fill="url(#b91)"/>
<rect x="0" y="736" width="1653" height="8" fill="url(#b92)"/>
<rect x="0" y="744" width="1653" height="8" fill="url(#b93)"/>
<rect x="0" y="752" width="1653" height="8" fill="url(#b94)"/>
<rect x="0" y="760" width="1653" height="8" fill="url(#b95)"/>
<rect x="0" y="768" width="1653" height="8" fill="url(#b96)"/>
<rect x="0" y="776" width="1653" height="8" fill="url(#b97)"/>
<rect x="0" y="784" width="1653" height="8" fill="url(#b98)"/>
<rect x="0" y="792" width="1653" height="8" fill="url(#b99)"/>
<rect x="0" y="800" width="1653" height="8" fill="url(#b100)"/>
<rect x="0" y="808" width="1653" height="8" fill="url(#b101)"/>
<rect x="0" y="816" width="1653" height="8" fill="url(#b102)"/>
<rect x="0" y="824" width="1653" height="8" fill="url(#b103)"/>
<rect x="0" y="832" width="1653" height="8" fill="url(#b104)"/>
<rect x="0" y="840" width="1653" height="8" fill="url(#b105)"/>
<rect x="0" y="848" width="1653" height="8" fill="url(#b106)"/>
<rect x="0" y="856" width="1653" height="8" fill="url(#b107)"/>
<rect x="0" y="864" width="1653" height="8" fill="url(#b108)"/>
<rect x="0" y="872" width="1653" height="8" fill="url(#b109)"/>
<rect x="0" y="880" width="1653" height="8" fill="url(#b110)"/>
<rect x="0" y="888" width="1653" height="8" fill="url(#b111)"/>
<rect x="0" y="896" width="1653" height="8" fill="url(#b112)"/>
<rect x="0" y="904" width="1653" height="8" fill="url(#b113)"/>
<rect x="0" y="912" width="1653" height="8" fill="url(#b114)"/>
<rect x="0" y="920" width="1653" height="8" fill="url(#b115)"/>
<rect x="0" y="928" width="1653" height="8" fill="url(#b116)"/>
<rect x="0" y="936" width="1653" height="8" fill="url(#b117)"/>
<rect x="0" y="944" width="1653" height="8" fill="url(#b118)"/>
<rect x="0" y="952" width="1653" height="8" fill="url(#b119)"/>
<rect x="0" y="960" width="1653" height="8" fill="url(#b120)"/>
<rect x="0" y="968" width="1653" height="8" fill="url(#b121)"/>
<rect x="0" y="976" width="1653" height="8" fill="url(#b122)"/>
<rect x="0" y="984" width="1653" height="8" fill="url(#b123)"/>
<rect x="0" y="992" width="1653" height="5" fill="url(#b124)"/>
<rect x="1" y="1.5" width="1651" height="994.5" fill="none" stroke="#bdbdbd" stroke-width="3"/>

<rect x="51.5" y="292.90" width="1548.70" height="3.2" fill="#000" fill-opacity="0.065"/>
<rect x="51.5" y="392.12" width="1548.70" height="3.2" fill="#000" fill-opacity="0.135"/>
<rect x="51.5" y="491.34" width="1548.70" height="3.2" fill="#000" fill-opacity="0.195"/>
<rect x="51.5" y="590.56" width="1548.70" height="3.2" fill="#000" fill-opacity="0.256"/>
<rect x="51.5" y="689.78" width="1548.70" height="3.2" fill="#000" fill-opacity="0.332"/>
<rect x="51.5" y="789.00" width="1548.70" height="3.2" fill="#000" fill-opacity="0.41"/>
<rect x="112.50" y="623.62" width="188.60" height="266.18" fill="#186282" fill-opacity="0.85" stroke="#e6eff5" stroke-width="2"/>
<rect x="422.10" y="540.11" width="188.60" height="349.69" fill="#186282" fill-opacity="0.85" stroke="#e6eff5" stroke-width="2"/>
<rect x="731.70" y="641.52" width="188.60" height="248.28" fill="#186282" fill-opacity="0.85" stroke="#e6eff5" stroke-width="2"/>
<rect x="1041.30" y="396.95" width="188.60" height="492.85" fill="#186282" fill-opacity="0.85" stroke="#e6eff5" stroke-width="2"/>
<rect x="1350.90" y="333.32" width="188.60" height="556.48" fill="#186282" fill-opacity="0.85" stroke="#e6eff5" stroke-width="2"/>
<rect x="51.5" y="885.9" width="1548.70" height="7.1" fill="#404040"/>
<text transform="translate(175.15,683.82) scale(0.9615,1.0)" font-family="Liberation Sans" font-weight="bold" font-size="39" fill="#ffffff">134</text>
<text transform="translate(484.71,600.31) scale(0.9799,1.0)" font-family="Liberation Sans" font-weight="bold" font-size="39" fill="#ffffff">176</text>
<text transform="translate(794.32,701.72) scale(0.9737,1.0)" font-family="Liberation Sans" font-weight="bold" font-size="39" fill="#ffffff">125</text>
<text transform="translate(1105.08,457.15) scale(0.9556,1.0)" font-family="Liberation Sans" font-weight="bold" font-size="39" fill="#ffffff">248</text>
<text transform="translate(1414.68,393.52) scale(0.9615,1.0)" font-family="Liberation Sans" font-weight="bold" font-size="39" fill="#ffffff">280</text>
<text transform="translate(115.62,954.60) scale(0.9048,1.0)" font-family="Liberation Sans" font-weight="normal" font-size="38.5" fill="#404040">I SEM 2023</text>
<text transform="translate(420.52,954.60) scale(0.9030,1.0)" font-family="Liberation Sans" font-weight="normal" font-size="38.5" fill="#404040">II SEM 2023</text>
<text transform="translate(734.83,954.60) scale(0.9012,1.0)" font-family="Liberation Sans" font-weight="normal" font-size="38.5" fill="#404040">I SEM 2024</text>
<text transform="translate(1039.73,954.60) scale(0.9014,1.0)" font-family="Liberation Sans" font-weight="normal" font-size="38.5" fill="#404040">II SEM 2024</text>
<text transform="translate(1354.02,954.60) scale(0.9048,1.0)" font-family="Liberation Sans" font-weight="normal" font-size="38.5" fill="#404040">I SEM 2025</text>
<text transform="translate(219.78,112.20) scale(0.9390,0.975)" font-family="Liberation Sans" font-weight="bold" font-size="79.4" fill="#404040">Incıdentı</text>
<text transform="translate(538.14,112.20) scale(0.9015,0.975)" font-family="Liberation Sans" font-weight="bold" font-size="79.4" fill="#404040">Cyber</text>
<text transform="translate(754.03,112.20) scale(0.8949,0.975)" font-family="Liberation Sans" font-weight="bold" font-size="79.4" fill="#404040">ın</text>
<text transform="translate(833.74,112.20) scale(0.9460,0.975)" font-family="Liberation Sans" font-weight="bold" font-size="79.4" fill="#404040">Italıa</text>
<text transform="translate(1023.17,112.20) scale(0.8921,0.975)" font-family="Liberation Sans" font-weight="bold" font-size="79.4" fill="#404040">con</text>
<text transform="translate(1163.77,112.20) scale(0.9406,0.975)" font-family="Liberation Sans" font-weight="bold" font-size="79.4" fill="#404040">ımpatto</text>
<text transform="translate(618.65,213.20) scale(0.8980,0.975)" font-family="Liberation Sans" font-weight="bold" font-size="79.4" fill="#404040">sıgnıfıcatıvo</text>
<circle cx="338.0" cy="62.3" r="4.8" fill="#404040"/>
<circle cx="516.0" cy="62.3" r="4.8" fill="#404040"/>
<circle cx="764.0" cy="62.3" r="4.8" fill="#404040"/>
<circle cx="953.0" cy="62.3" r="4.8" fill="#404040"/>
<circle cx="1174.0" cy="62.3" r="4.8" fill="#404040"/>
<circle cx="668.0" cy="163.1" r="4.8" fill="#404040"/>
<circle cx="775.0" cy="163.1" r="4.8" fill="#404040"/>
<circle cx="818.5" cy="163.1" r="4.8" fill="#404040"/>
<circle cx="941.5" cy="163.1" r="4.8" fill="#404040"/>
</svg></body></html>
